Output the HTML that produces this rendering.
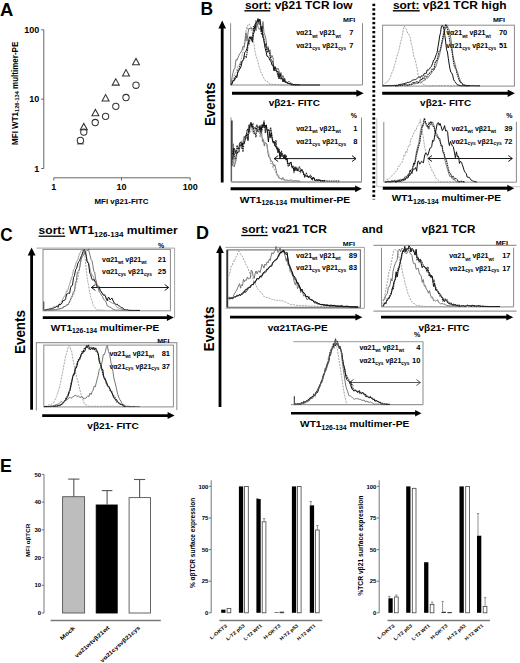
<!DOCTYPE html>
<html><head><meta charset="utf-8"><style>html,body{margin:0;padding:0;background:#fff;width:520px;height:663px;overflow:hidden}svg{display:block}</style></head>
<body><svg width="520" height="663" viewBox="0 0 520 663">
<rect width="520" height="663" fill="#fff"/>
<text x="0.0" y="15.6" font-family="&quot;Liberation Sans&quot;, sans-serif" font-weight="bold" font-size="18.6" textLength="13.3" lengthAdjust="spacingAndGlyphs" fill="#000" >A</text>
<line x1="43.8" y1="29.8" x2="43.8" y2="168.5" stroke="#555" stroke-width="0.9" />
<line x1="41.2" y1="29.8" x2="43.8" y2="29.8" stroke="#555" stroke-width="0.9" />
<text x="39.3" y="32.9" font-family="&quot;Liberation Sans&quot;, sans-serif" font-weight="bold" font-size="9.6" text-anchor="end" textLength="15" lengthAdjust="spacingAndGlyphs" fill="#000" >100</text>
<line x1="41.2" y1="99.2" x2="43.8" y2="99.2" stroke="#555" stroke-width="0.9" />
<text x="39.3" y="102.3" font-family="&quot;Liberation Sans&quot;, sans-serif" font-weight="bold" font-size="9.6" text-anchor="end" textLength="10" lengthAdjust="spacingAndGlyphs" fill="#000" >10</text>
<line x1="41.2" y1="168.5" x2="43.8" y2="168.5" stroke="#555" stroke-width="0.9" />
<text x="39.3" y="171.6" font-family="&quot;Liberation Sans&quot;, sans-serif" font-weight="bold" font-size="9.6" text-anchor="end" textLength="5" lengthAdjust="spacingAndGlyphs" fill="#000" >1</text>
<line x1="53.8" y1="177.8" x2="190.2" y2="177.8" stroke="#555" stroke-width="0.9" />
<line x1="53.8" y1="177.8" x2="53.8" y2="180.6" stroke="#555" stroke-width="0.9" />
<text x="53.8" y="190.3" font-family="&quot;Liberation Sans&quot;, sans-serif" font-weight="bold" font-size="9.6" text-anchor="middle" textLength="5" lengthAdjust="spacingAndGlyphs" fill="#000" >1</text>
<line x1="121.5" y1="177.8" x2="121.5" y2="180.6" stroke="#555" stroke-width="0.9" />
<text x="121.5" y="190.3" font-family="&quot;Liberation Sans&quot;, sans-serif" font-weight="bold" font-size="9.6" text-anchor="middle" textLength="10" lengthAdjust="spacingAndGlyphs" fill="#000" >10</text>
<line x1="190.2" y1="177.8" x2="190.2" y2="180.6" stroke="#555" stroke-width="0.9" />
<text x="190.2" y="190.3" font-family="&quot;Liberation Sans&quot;, sans-serif" font-weight="bold" font-size="9.6" text-anchor="middle" textLength="15" lengthAdjust="spacingAndGlyphs" fill="#000" >100</text>
<text x="94.5" y="203.6" font-family="&quot;Liberation Sans&quot;, sans-serif" font-weight="bold" font-size="7.2" textLength="54" lengthAdjust="spacingAndGlyphs" fill="#000" >MFI vβ21-FITC</text>
<text transform="translate(18.0,144.9) rotate(-90)" font-family="&quot;Liberation Sans&quot;, sans-serif" font-weight="bold" font-size="8.3" textLength="103.2" lengthAdjust="spacingAndGlyphs">MFI WT1<tspan font-size="5.9" dy="0.8">126-134</tspan><tspan dy="-0.8"> multimer-PE</tspan></text>
<line x1="77.0" y1="143.9" x2="83.8" y2="143.9" stroke="#333" stroke-width="1.0" />
<circle cx="136" cy="85.2" r="3.15" fill="none" stroke="#333" stroke-width="1.05"/>
<circle cx="126" cy="97.5" r="3.15" fill="none" stroke="#333" stroke-width="1.05"/>
<circle cx="115.8" cy="106.3" r="3.15" fill="none" stroke="#333" stroke-width="1.05"/>
<circle cx="105.6" cy="116.3" r="3.15" fill="none" stroke="#333" stroke-width="1.05"/>
<circle cx="95.2" cy="122.5" r="3.15" fill="none" stroke="#333" stroke-width="1.05"/>
<circle cx="83.8" cy="132.1" r="3.15" fill="none" stroke="#333" stroke-width="1.05"/>
<circle cx="80.4" cy="140.4" r="3.15" fill="none" stroke="#333" stroke-width="1.05"/>
<polygon points="132.5,64.7 136,58.4 139.5,64.7" fill="none" stroke="#333" stroke-width="1.05"/>
<polygon points="122.5,75.89999999999999 126,69.6 129.5,75.89999999999999" fill="none" stroke="#333" stroke-width="1.05"/>
<polygon points="112.3,85.1 115.8,78.8 119.3,85.1" fill="none" stroke="#333" stroke-width="1.05"/>
<polygon points="102.1,100.89999999999999 105.6,94.6 109.1,100.89999999999999" fill="none" stroke="#333" stroke-width="1.05"/>
<polygon points="91.9,115.7 95.4,109.4 98.9,115.7" fill="none" stroke="#333" stroke-width="1.05"/>
<polygon points="80.3,129.70000000000002 83.8,123.4 87.3,129.70000000000002" fill="none" stroke="#333" stroke-width="1.05"/>
<text x="200.5" y="15.3" font-family="&quot;Liberation Sans&quot;, sans-serif" font-weight="bold" font-size="18.5" textLength="12.6" lengthAdjust="spacingAndGlyphs" fill="#000" >B</text>
<text x="245" y="8.9" font-family="&quot;Liberation Sans&quot;, sans-serif" font-weight="bold" font-size="10.5" textLength="107.6" lengthAdjust="spacingAndGlyphs" fill="#000" >sort: vβ21 TCR low</text>
<line x1="244.4" y1="10.8" x2="270.2" y2="10.8" stroke="#000" stroke-width="1.4" />
<text x="392.9" y="8.9" font-family="&quot;Liberation Sans&quot;, sans-serif" font-weight="bold" font-size="10.5" textLength="113.6" lengthAdjust="spacingAndGlyphs" fill="#000" >sort: vβ21 TCR high</text>
<line x1="392.8" y1="10.8" x2="419.7" y2="10.8" stroke="#000" stroke-width="1.4" />
<line x1="222.2" y1="27.5" x2="222.2" y2="182.5" stroke="#000" stroke-width="2.8"/>
<polygon points="218.39999999999998,28.5 222.2,20.5 226.0,28.5" fill="#000"/>
<text transform="translate(215.3,126.1) rotate(-90)" font-family="&quot;Liberation Sans&quot;, sans-serif" font-weight="bold" font-size="14.3" textLength="43.8" lengthAdjust="spacingAndGlyphs">Events</text>
<rect x="372.4" y="3.70" width="2.8" height="2.4" fill="#000"/>
<rect x="372.4" y="8.25" width="2.8" height="2.4" fill="#000"/>
<rect x="372.4" y="12.79" width="2.8" height="2.4" fill="#000"/>
<rect x="372.4" y="17.34" width="2.8" height="2.4" fill="#000"/>
<rect x="372.4" y="21.88" width="2.8" height="2.4" fill="#000"/>
<rect x="372.4" y="26.43" width="2.8" height="2.4" fill="#000"/>
<rect x="372.4" y="30.97" width="2.8" height="2.4" fill="#000"/>
<rect x="372.4" y="35.51" width="2.8" height="2.4" fill="#000"/>
<rect x="372.4" y="40.06" width="2.8" height="2.4" fill="#000"/>
<rect x="372.4" y="44.60" width="2.8" height="2.4" fill="#000"/>
<rect x="372.4" y="49.15" width="2.8" height="2.4" fill="#000"/>
<rect x="372.4" y="53.69" width="2.8" height="2.4" fill="#000"/>
<rect x="372.4" y="58.24" width="2.8" height="2.4" fill="#000"/>
<rect x="372.4" y="62.78" width="2.8" height="2.4" fill="#000"/>
<rect x="372.4" y="67.33" width="2.8" height="2.4" fill="#000"/>
<rect x="372.4" y="71.88" width="2.8" height="2.4" fill="#000"/>
<rect x="372.4" y="76.42" width="2.8" height="2.4" fill="#000"/>
<rect x="372.4" y="80.97" width="2.8" height="2.4" fill="#000"/>
<rect x="372.4" y="85.51" width="2.8" height="2.4" fill="#000"/>
<rect x="372.4" y="90.06" width="2.8" height="2.4" fill="#000"/>
<rect x="372.4" y="94.60" width="2.8" height="2.4" fill="#000"/>
<rect x="372.4" y="99.14" width="2.8" height="2.4" fill="#000"/>
<rect x="372.4" y="103.69" width="2.8" height="2.4" fill="#000"/>
<rect x="372.4" y="108.23" width="2.8" height="2.4" fill="#000"/>
<rect x="372.4" y="112.78" width="2.8" height="2.4" fill="#000"/>
<rect x="372.4" y="117.33" width="2.8" height="2.4" fill="#000"/>
<rect x="372.4" y="121.87" width="2.8" height="2.4" fill="#000"/>
<rect x="372.4" y="126.42" width="2.8" height="2.4" fill="#000"/>
<rect x="372.4" y="130.96" width="2.8" height="2.4" fill="#000"/>
<rect x="372.4" y="135.51" width="2.8" height="2.4" fill="#000"/>
<rect x="372.4" y="140.05" width="2.8" height="2.4" fill="#000"/>
<rect x="372.4" y="144.60" width="2.8" height="2.4" fill="#000"/>
<rect x="372.4" y="149.14" width="2.8" height="2.4" fill="#000"/>
<rect x="372.4" y="153.69" width="2.8" height="2.4" fill="#000"/>
<rect x="372.4" y="158.23" width="2.8" height="2.4" fill="#000"/>
<rect x="372.4" y="162.78" width="2.8" height="2.4" fill="#000"/>
<rect x="372.4" y="167.32" width="2.8" height="2.4" fill="#000"/>
<rect x="372.4" y="171.87" width="2.8" height="2.4" fill="#000"/>
<rect x="372.4" y="176.41" width="2.8" height="2.4" fill="#000"/>
<rect x="372.4" y="180.96" width="2.8" height="2.4" fill="#000"/>
<rect x="372.4" y="185.50" width="2.8" height="2.4" fill="#000"/>
<rect x="372.4" y="190.05" width="2.8" height="2.4" fill="#000"/>
<rect x="372.4" y="194.59" width="2.8" height="2.4" fill="#000"/>
<rect x="372.4" y="198.8" width="2.8" height="0.9" fill="#555"/>
<polyline points="230.6,23.2 230.6,85 362.5,85 362.5,23.2" fill="none" stroke="#8a8a8a" stroke-width="1"/>
<line x1="232" y1="93.2" x2="357.40000000000003" y2="93.2" stroke="#000" stroke-width="3.1"/>
<polygon points="356.40000000000003,89.7 363.8,93.2 356.40000000000003,96.7" fill="#000"/>
<text x="268.7" y="105.5" font-family="&quot;Liberation Sans&quot;, sans-serif" font-weight="bold" font-size="9.6" textLength="51.2" lengthAdjust="spacingAndGlyphs" fill="#000" >vβ21- FITC</text>
<text x="296.2" y="35.4" font-family="&quot;Liberation Sans&quot;, sans-serif" font-weight="bold" font-size="7.5" textLength="44.6" lengthAdjust="spacingAndGlyphs" fill="#000" >vα21<tspan font-size="5.2" dy="2.1">wt</tspan><tspan dy="-2.1"> vβ21</tspan><tspan font-size="5.2" dy="2.1">wt</tspan></text>
<text x="296.2" y="48.2" font-family="&quot;Liberation Sans&quot;, sans-serif" font-weight="bold" font-size="7.5" textLength="50.0" lengthAdjust="spacingAndGlyphs" fill="#000" >vα21<tspan font-size="5.2" dy="1.8">cys</tspan><tspan dy="-1.8"> vβ21</tspan><tspan font-size="5.2" dy="1.8">cys</tspan></text>
<text x="353.3" y="35.4" font-family="&quot;Liberation Sans&quot;, sans-serif" font-weight="bold" font-size="7.5" text-anchor="end" fill="#000" >7</text>
<text x="353.3" y="48.2" font-family="&quot;Liberation Sans&quot;, sans-serif" font-weight="bold" font-size="7.5" text-anchor="end" fill="#000" >7</text>
<text x="355.2" y="22" font-family="&quot;Liberation Sans&quot;, sans-serif" font-weight="bold" font-size="6" text-anchor="end" textLength="12.2" lengthAdjust="spacingAndGlyphs" fill="#000" >MFI</text>
<polyline points="231.00,85.00 232.00,83.09 233.00,79.72 234.00,76.31 235.00,73.63 236.00,72.54 237.00,68.99 238.00,66.10 239.00,65.53 240.00,62.70 241.00,60.62 242.00,55.54 243.00,51.34 244.00,45.56 245.00,37.59 245.75,34.36 246.50,27.51 247.25,29.32 248.00,24.32 249.25,24.02 250.50,26.47 251.25,27.57 252.00,31.45 253.00,36.42 254.00,44.35 255.00,51.14 256.00,56.11 257.00,59.21 258.00,61.38 259.00,66.62 260.00,69.10 261.00,72.83 262.00,74.23 263.00,77.04 264.00,77.96 265.00,80.14 266.00,81.24 267.00,80.96 268.00,82.19 269.00,82.99 270.00,84.63 271.00,84.07 272.00,84.39 273.00,84.47 274.00,84.33 275.00,84.15 276.00,84.80 277.00,84.63 278.00,84.90 279.00,84.77 280.00,85.00 281.00,85.00 282.00,85.00 283.00,85.00 284.00,85.00 285.00,85.00 286.00,85.00 287.00,85.00 288.00,85.00 289.00,85.00 290.00,85.00 291.00,85.00 292.00,85.00 293.00,85.00 294.00,85.00 295.00,85.00 296.00,85.00 297.00,85.00 298.00,85.00 299.00,85.00 300.00,85.00" fill="none" stroke="#9a9a9a" stroke-width="0.9" stroke-dasharray="2 1.1" stroke-linejoin="miter" opacity="1"/>
<polyline points="231.00,85.00 232.00,77.62 233.00,72.74 234.00,69.30 235.00,67.89 236.00,59.58 237.00,60.28 238.00,57.71 239.00,55.21 240.00,53.47 241.00,52.00 242.00,50.25 243.00,46.31 244.00,47.43 245.00,42.58 246.00,32.69 247.00,41.10 248.00,32.98 249.00,28.07 250.00,29.20 251.00,27.60 252.00,29.14 253.00,28.78 254.00,30.00 255.00,24.00 256.00,30.75 257.00,22.71 258.00,26.96 259.00,29.05 260.00,29.07 261.00,27.36 262.00,30.76 263.00,21.55 264.00,32.89 265.00,35.25 266.00,39.53 267.00,49.64 268.00,46.62 269.00,52.45 270.00,49.70 271.00,58.04 272.00,55.42 273.00,57.74 274.00,69.33 275.00,67.31 276.00,67.70 277.00,69.68 278.00,68.14 279.00,70.63 280.00,74.90 281.00,72.46 282.00,77.21 283.00,75.40 284.00,78.99 285.00,78.54 286.00,82.71 287.00,82.81 288.00,81.82 289.00,81.15 290.00,82.46 291.00,83.38 292.00,83.25 293.00,84.32 294.00,84.90 295.00,85.00" fill="none" stroke="#666" stroke-width="0.9" stroke-linejoin="miter" opacity="1"/>
<polyline points="231.00,85.00 232.00,84.11 233.00,80.59 234.00,80.93 235.00,77.64 235.88,75.85 236.75,77.70 237.62,73.04 238.50,70.92 239.75,69.09 241.00,66.69 242.25,60.92 243.50,59.53 244.75,52.47 246.00,51.05 247.00,48.36 248.00,43.54 248.75,40.08 249.50,36.77 250.25,38.38 251.00,36.55 251.75,38.67 252.50,42.18 253.25,34.03 254.00,32.79 254.75,29.62 255.50,26.95 256.25,22.05 257.00,22.46 258.00,18.51 259.00,22.69 259.75,19.04 260.50,21.81 261.25,31.61 262.00,26.28 262.75,37.08 263.50,38.85 264.50,44.19 265.25,48.69 266.00,51.37 267.00,56.22 268.00,56.40 269.00,57.96 270.00,60.49 271.00,61.30 272.00,65.23 273.00,65.27 274.00,70.91 275.00,66.61 276.00,69.95 277.00,71.64 278.00,71.17 279.00,78.97 280.00,73.46 281.00,77.61 282.00,78.33 283.00,81.93 284.00,78.62 285.00,82.54 286.00,81.62 287.00,82.89 288.00,82.87 289.00,84.03 290.00,83.36 291.00,84.25 292.00,84.72 293.00,85.00 294.00,84.01 295.00,85.00 296.00,85.00 297.00,84.75 298.00,84.95 299.00,84.90 300.00,85.00 301.00,85.00 302.00,85.00 303.00,85.00 304.00,85.00 305.00,85.00 306.00,85.00 307.00,85.00 308.00,85.00 309.00,85.00 310.00,85.00 311.00,85.00 312.00,85.00 313.00,85.00 314.00,85.00 315.00,85.00 316.00,85.00 317.00,85.00 318.00,85.00 319.00,85.00 320.00,85.00" fill="none" stroke="#111" stroke-width="1.0" stroke-linejoin="miter" opacity="1"/>
<polyline points="231.00,85.00 232.00,83.52 233.00,80.95 234.00,80.03 235.00,79.09 236.00,76.64 237.00,76.40 238.00,69.63 239.00,69.14 240.00,65.10 241.00,62.48 242.00,61.54 243.00,60.24 244.00,58.42 245.00,56.32 246.25,57.31 247.50,50.24 248.25,41.35 249.00,43.53 250.00,39.38 251.00,37.66 252.00,40.40 253.00,34.42 253.75,25.93 254.50,27.81 255.25,24.74 256.00,20.95 257.00,21.36 258.00,21.87 259.00,23.94 260.00,23.39 260.75,27.44 261.50,34.77 262.25,30.92 263.00,33.90 264.00,38.85 265.00,45.85 266.00,44.16 267.00,52.73 268.25,49.10 269.50,53.32 270.75,59.36 272.00,60.89 273.00,63.56 274.00,68.00 275.00,70.51 276.00,70.89 277.00,71.83 278.00,76.32 279.00,75.90 280.00,76.14 281.00,79.45 282.00,77.85 283.00,80.07 284.00,81.46 285.00,81.61 286.00,82.03 287.00,83.19 288.00,82.99 289.00,83.43 290.00,83.72 291.00,84.86 292.00,84.13 293.00,84.89 294.00,84.66 295.00,84.51 296.00,84.88 297.00,84.83 298.00,84.87 299.00,84.72 300.00,85.00" fill="none" stroke="#222" stroke-width="1.1" stroke-dasharray="1.6 0.7" stroke-linejoin="miter" opacity="1"/>
<rect x="382.6" y="25.2" width="131.79999999999995" height="60.89999999999999" fill="none" stroke="#8a8a8a" stroke-width="1"/>
<line x1="382.2" y1="93.3" x2="508.7" y2="93.3" stroke="#000" stroke-width="3.0"/>
<polygon points="507.7,89.7 514.9,93.3 507.7,96.89999999999999" fill="#000"/>
<text x="420.1" y="105.6" font-family="&quot;Liberation Sans&quot;, sans-serif" font-weight="bold" font-size="9.6" textLength="51.1" lengthAdjust="spacingAndGlyphs" fill="#000" >vβ21- FITC</text>
<text x="446.2" y="35.4" font-family="&quot;Liberation Sans&quot;, sans-serif" font-weight="bold" font-size="7.5" textLength="44.6" lengthAdjust="spacingAndGlyphs" fill="#000" >vα21<tspan font-size="5.2" dy="2.1">wt</tspan><tspan dy="-2.1"> vβ21</tspan><tspan font-size="5.2" dy="2.1">wt</tspan></text>
<text x="446.2" y="48.2" font-family="&quot;Liberation Sans&quot;, sans-serif" font-weight="bold" font-size="7.5" textLength="50.0" lengthAdjust="spacingAndGlyphs" fill="#000" >vα21<tspan font-size="5.2" dy="1.8">cys</tspan><tspan dy="-1.8"> vβ21</tspan><tspan font-size="5.2" dy="1.8">cys</tspan></text>
<text x="507.3" y="35.4" font-family="&quot;Liberation Sans&quot;, sans-serif" font-weight="bold" font-size="7.5" text-anchor="end" fill="#000" >70</text>
<text x="507.3" y="48.2" font-family="&quot;Liberation Sans&quot;, sans-serif" font-weight="bold" font-size="7.5" text-anchor="end" fill="#000" >51</text>
<text x="505.1" y="22" font-family="&quot;Liberation Sans&quot;, sans-serif" font-weight="bold" font-size="6" text-anchor="end" textLength="12.2" lengthAdjust="spacingAndGlyphs" fill="#000" >MFI</text>
<polyline points="382.60,85.62 383.62,84.70 384.63,84.11 385.65,82.69 386.67,82.27 387.68,80.87 388.70,80.91 389.72,78.23 390.74,76.24 391.76,73.06 392.78,71.03 393.80,68.26 394.84,64.19 395.88,60.89 396.92,56.25 397.96,52.99 399.00,49.82 399.88,45.53 400.75,41.35 401.62,39.01 402.50,33.83 403.35,29.55 404.20,26.10 405.07,27.21 405.95,28.82 406.82,30.36 407.70,33.32 408.57,33.85 409.43,35.67 410.30,37.70 411.17,43.11 412.03,46.37 412.90,50.73 414.03,57.22 415.17,59.49 416.30,64.80 417.17,69.36 418.03,74.05 418.90,76.76 419.77,78.04 420.65,80.74 421.52,82.15 422.40,83.93 423.47,84.49 424.55,84.88 425.62,85.30 426.70,85.67 427.72,85.77 428.75,85.77 429.77,85.66 430.79,85.61 431.82,85.68 432.84,85.64 433.86,85.51 434.88,85.54 435.91,85.64 436.93,85.54 437.95,85.50 438.98,85.53 440.00,85.50 441.00,85.51 442.00,85.37 443.00,85.69 444.00,85.58 445.00,85.51 446.00,85.67 447.00,85.63 448.00,85.62 449.00,85.71 450.00,85.81 451.00,85.70 452.00,85.79 453.00,85.84 454.00,85.64 455.00,85.69 456.00,85.79 457.00,85.65 458.00,85.75 459.00,85.86 460.00,85.80" fill="none" stroke="#9a9a9a" stroke-width="0.9" stroke-dasharray="2 1.1" stroke-linejoin="miter" opacity="1"/>
<polyline points="382.60,85.84 383.61,85.60 384.63,85.66 385.64,85.72 386.66,85.85 387.67,85.65 388.69,85.42 389.70,85.63 390.72,85.40 391.73,85.70 392.75,85.47 393.76,85.73 394.78,85.42 395.79,85.26 396.81,85.15 397.82,85.30 398.84,85.40 399.85,85.50 400.87,85.31 401.88,85.11 402.90,85.30 403.91,84.92 404.93,85.24 405.94,84.98 406.96,85.37 407.97,85.25 408.99,85.10 410.00,84.80 411.02,84.85 412.05,84.54 413.07,84.02 414.09,83.71 415.12,84.01 416.14,83.21 417.16,83.21 418.18,83.28 419.21,81.95 420.23,82.92 421.25,82.36 422.28,81.41 423.30,80.99 424.29,79.97 425.27,80.16 426.26,77.45 427.24,78.50 428.23,77.21 429.21,75.83 430.20,75.07 431.24,73.40 432.28,71.75 433.32,70.89 434.36,67.74 435.40,67.66 436.47,64.61 437.55,60.40 438.62,58.24 439.70,54.06 440.83,48.89 441.97,43.57 443.10,39.24 443.97,33.78 444.83,30.22 445.70,26.93 446.57,26.72 447.43,25.82 448.30,28.78 449.15,29.73 450.00,33.21 450.90,38.85 451.80,46.02 452.70,54.07 453.83,59.90 454.97,63.59 456.10,68.69 456.98,70.98 457.85,72.89 458.73,76.67 459.60,78.75 460.73,81.78 461.87,82.77 463.00,84.69 464.00,84.67 465.00,84.83 466.00,85.39 467.00,85.47 468.00,85.39 469.00,85.50 470.00,85.80" fill="none" stroke="#666" stroke-width="0.9" stroke-linejoin="miter" opacity="1"/>
<polyline points="382.60,85.78 383.58,85.82 384.56,85.72 385.54,85.69 386.52,85.59 387.50,85.64 388.48,85.77 389.46,85.67 390.44,85.72 391.42,85.59 392.40,85.59 393.38,85.53 394.36,85.24 395.34,85.58 396.32,85.50 397.30,85.48 398.27,84.83 399.23,84.52 400.20,84.43 401.17,84.26 402.13,84.21 403.10,83.85 404.07,83.77 405.03,83.15 406.00,83.21 406.96,82.86 407.91,82.09 408.87,82.66 409.82,81.82 410.78,81.74 411.73,80.55 412.69,80.11 413.64,79.91 414.60,79.65 415.57,79.55 416.53,78.88 417.50,78.02 418.47,77.24 419.43,77.00 420.40,77.57 421.37,75.85 422.33,76.03 423.30,75.68 424.29,73.39 425.27,73.43 426.26,73.36 427.24,69.86 428.23,70.15 429.21,69.31 430.20,67.71 431.33,66.54 432.47,63.74 433.60,60.05 434.48,59.73 435.35,56.97 436.23,54.65 437.10,52.54 437.97,46.86 438.83,42.02 439.70,36.00 440.55,32.72 441.40,26.29 442.60,25.55 444.00,29.14 444.85,35.48 445.70,41.97 446.57,49.56 447.43,52.00 448.30,58.34 449.17,64.06 450.03,69.10 450.90,72.33 451.77,72.97 452.65,75.11 453.52,79.21 454.40,81.08 455.27,81.84 456.15,83.48 457.02,84.33 457.90,84.93 459.03,85.21 460.17,85.50 461.30,85.87 462.28,85.77 463.27,85.77 464.25,85.77 465.24,85.56 466.22,85.86 467.21,85.83 468.19,85.79 469.17,85.54 470.16,85.68 471.14,85.84 472.13,85.58 473.11,85.75 474.09,85.87 475.08,85.65 476.06,85.93 477.05,85.84 478.03,85.78 479.02,85.82 480.00,85.80" fill="none" stroke="#111" stroke-width="1.0" stroke-linejoin="miter" opacity="1"/>
<polyline points="395.00,85.84 396.00,86.00 397.00,85.79 398.00,85.72 399.00,85.57 400.00,85.44 401.00,85.42 402.00,85.19 403.00,84.95 404.00,84.82 405.00,84.66 406.00,84.93 407.00,84.94 408.00,85.16 409.00,84.76 410.00,84.61 411.00,84.36 412.00,83.74 413.00,82.59 414.00,83.40 415.00,82.34 416.00,82.26 417.00,81.62 418.00,82.91 419.00,81.60 420.00,80.80 421.00,79.18 422.00,79.77 423.00,77.90 424.00,78.65 425.00,76.02 426.00,76.39 427.00,76.52 428.00,74.39 429.00,73.86 430.00,72.59 431.00,72.02 432.00,69.29 433.00,69.18 434.00,69.37 435.00,62.92 436.00,61.10 437.00,60.22 438.00,56.33 439.00,51.47 440.00,50.93 441.00,46.35 442.25,40.03 443.50,33.50 444.25,30.56 445.00,26.13 446.00,24.19 447.00,27.79 448.00,30.32 449.00,36.22 450.25,43.65 451.50,48.59 452.75,56.24 454.00,65.24 455.00,67.66 456.00,68.86 457.00,73.94 458.00,76.60 459.00,79.47 460.00,81.97 461.00,82.53 462.00,83.46 463.00,84.81 464.00,85.27 465.00,85.76 466.00,85.67 467.00,85.59 468.00,85.64 469.00,85.79 470.00,85.80" fill="none" stroke="#222" stroke-width="1.1" stroke-dasharray="1.6 0.7" stroke-linejoin="miter" opacity="1"/>
<polyline points="231,117.5 231,182 361.5,182 361.5,117.5" fill="none" stroke="#8a8a8a" stroke-width="1"/>
<line x1="231" y1="182" x2="361.5" y2="182" stroke="#aaa" stroke-width="2" />
<line x1="230.6" y1="188.8" x2="356.09999999999997" y2="188.8" stroke="#000" stroke-width="3.0"/>
<polygon points="355.09999999999997,185.4 361.9,188.8 355.09999999999997,192.20000000000002" fill="#000"/>
<text x="239.8" y="202.6" font-family="&quot;Liberation Sans&quot;, sans-serif" font-weight="bold" font-size="9.4" textLength="110.4" lengthAdjust="spacingAndGlyphs" fill="#000" >WT1<tspan font-size="6.4" dy="2.6">126-134</tspan><tspan dy="-2.6"> multimer-PE</tspan></text>
<text x="296.2" y="131.2" font-family="&quot;Liberation Sans&quot;, sans-serif" font-weight="bold" font-size="7.5" textLength="44.6" lengthAdjust="spacingAndGlyphs" fill="#000" >vα21<tspan font-size="5.2" dy="2.1">wt</tspan><tspan dy="-2.1"> vβ21</tspan><tspan font-size="5.2" dy="2.1">wt</tspan></text>
<text x="296.2" y="143.9" font-family="&quot;Liberation Sans&quot;, sans-serif" font-weight="bold" font-size="7.5" textLength="50.0" lengthAdjust="spacingAndGlyphs" fill="#000" >vα21<tspan font-size="5.2" dy="1.8">cys</tspan><tspan dy="-1.8"> vβ21</tspan><tspan font-size="5.2" dy="1.8">cys</tspan></text>
<text x="357.5" y="131.2" font-family="&quot;Liberation Sans&quot;, sans-serif" font-weight="bold" font-size="7.5" text-anchor="end" fill="#000" >1</text>
<text x="357.5" y="143.9" font-family="&quot;Liberation Sans&quot;, sans-serif" font-weight="bold" font-size="7.5" text-anchor="end" fill="#000" >8</text>
<text x="357.1" y="118.1" font-family="&quot;Liberation Sans&quot;, sans-serif" font-weight="bold" font-size="7" text-anchor="end" fill="#000" >%</text>
<line x1="274.2" y1="158.6" x2="356" y2="158.6" stroke="#000" stroke-width="0.9"/>
<polyline points="278.2,155.6 274.2,158.6 278.2,161.6" fill="none" stroke="#000" stroke-width="0.9"/>
<polyline points="352,155.6 356,158.6 352,161.6" fill="none" stroke="#000" stroke-width="0.9"/>
<line x1="231.9" y1="166" x2="231.9" y2="120.5" stroke="#222" stroke-width="1.4" />
<line x1="231.6" y1="181" x2="231.6" y2="166" stroke="#555" stroke-width="1.0" />
<polyline points="232.30,146.61 233.40,143.80 234.00,166.95 235.00,164.18 236.00,159.25 236.93,152.94 237.87,151.72 238.80,147.42 239.70,142.70 240.60,144.83 241.50,149.00 242.40,144.63 243.30,140.73 244.20,136.22 245.07,138.00 245.93,134.59 246.80,135.13 247.70,135.74 248.60,124.84 249.50,131.68 250.40,125.50 251.30,126.12 252.20,123.76 253.10,132.45 254.00,131.13 254.90,130.78 255.93,126.72 256.95,124.60 257.98,128.77 259.00,131.23 259.87,131.21 260.73,134.89 261.60,132.12 262.50,141.66 263.40,139.41 264.30,146.03 265.20,142.48 266.10,143.47 267.00,143.97 267.90,153.02 268.80,157.01 269.70,156.95 270.73,160.47 271.75,160.95 272.77,163.28 273.80,166.42 274.80,164.60 275.80,168.98 276.80,173.35 277.80,175.51 278.80,177.98 279.80,178.16 280.80,178.80 281.80,179.34 282.77,177.49 283.74,179.71 284.71,179.18 285.69,180.38 286.66,180.05 287.63,180.23 288.60,180.35 289.64,180.51 290.67,179.87 291.71,180.09 292.75,181.00 293.78,180.92 294.82,180.68 295.85,180.76 296.89,180.80 297.93,181.00 298.96,181.00 300.00,181.00" fill="none" stroke="#666" stroke-width="0.9" stroke-linejoin="miter" opacity="1"/>
<polyline points="232.30,154.34 233.40,148.16 234.20,152.60 235.00,158.83 236.00,158.89 237.00,145.13 238.00,149.32 239.00,147.39 240.00,144.47 241.00,145.54 242.00,144.00 243.00,151.89 244.00,140.87 245.00,137.31 246.00,138.47 247.00,129.31 248.00,129.60 249.00,131.61 250.00,124.79 251.00,123.86 252.00,126.49 253.00,124.38 254.00,133.39 255.00,132.87 256.00,137.30 257.00,126.10 258.00,126.82 259.00,127.41 260.00,129.79 261.00,127.15 262.00,129.72 263.00,124.77 264.13,120.57 265.27,132.91 266.40,124.81 267.50,133.31 268.60,129.18 269.70,132.97 270.60,127.48 271.50,131.96 272.40,139.18 273.30,142.64 274.20,142.00 275.10,146.17 275.97,140.08 276.83,149.49 277.70,148.50 278.65,148.01 279.60,154.50 280.55,152.25 281.50,151.47 282.47,154.05 283.43,154.70 284.40,155.76 285.37,157.81 286.33,156.47 287.30,162.23 288.27,166.19 289.25,165.70 290.23,162.76 291.20,163.58 292.15,167.51 293.10,166.41 294.05,171.76 295.00,169.12 295.97,170.23 296.93,167.86 297.90,170.34 298.87,167.49 299.83,167.03 300.80,171.79 301.75,169.05 302.70,170.81 303.65,174.76 304.60,176.75 305.55,173.82 306.50,173.30 307.47,176.35 308.43,177.27 309.40,177.03 310.37,175.31 311.33,176.61 312.30,179.41 313.27,176.99 314.23,178.88 315.20,180.51 316.17,180.57 317.13,179.48 318.10,180.22 319.06,180.33 320.02,179.90 320.98,180.62 321.94,180.23 322.90,180.97 323.86,180.34 324.82,180.61 325.78,180.71 326.74,180.95 327.70,181.00 328.72,181.00 329.75,181.00 330.77,181.00 331.80,181.00 332.82,181.00 333.85,181.00 334.88,181.00 335.90,181.00 336.93,181.00 337.95,181.00 338.98,181.00 340.00,181.00" fill="none" stroke="#222" stroke-width="1.1" stroke-dasharray="1.6 0.7" stroke-linejoin="miter" opacity="1"/>
<polyline points="232.30,161.87 233.15,156.21 234.00,148.18 235.00,149.86 236.00,153.92 237.00,153.79 238.00,151.53 239.00,152.18 240.00,143.44 241.00,141.86 242.00,145.93 243.00,142.85 244.00,143.91 245.00,140.81 246.00,136.01 247.00,134.12 248.00,140.63 249.00,128.88 250.00,125.39 251.00,122.36 252.00,127.31 253.00,128.47 254.00,127.90 255.00,128.07 256.00,128.41 257.00,129.02 258.00,131.78 259.00,130.40 260.00,125.47 261.00,132.45 262.00,124.66 263.00,127.65 264.00,123.25 265.00,127.74 266.00,125.01 267.20,130.13 268.40,141.96 269.27,133.11 270.13,137.83 271.00,132.77 271.93,137.58 272.87,142.12 273.80,141.20 274.87,145.52 275.93,147.50 277.00,146.78 278.00,152.80 279.00,149.40 280.00,158.99 281.00,152.38 282.00,156.80 283.00,155.21 284.00,158.85 285.00,154.49 286.00,160.13 287.00,158.29 288.00,164.01 289.00,163.74 290.00,163.38 291.00,161.94 292.00,166.97 293.00,167.16 294.00,170.76 295.00,166.72 296.00,169.66 297.00,170.32 298.00,170.60 299.00,170.93 300.00,171.37 301.00,170.32 302.00,170.05 303.00,171.76 304.00,174.07 305.00,176.22 306.00,175.80 307.00,176.44 308.00,176.52 309.00,176.92 310.00,176.75 311.00,177.99 312.00,179.62 313.00,177.64 314.00,177.80 315.00,180.77 316.00,179.69 317.00,180.38 318.00,180.44 319.00,179.27 320.00,181.00 321.00,181.00 322.00,180.58 323.00,180.94 324.00,180.87 325.00,181.00" fill="none" stroke="#111" stroke-width="1.0" stroke-linejoin="miter" opacity="1"/>
<polyline points="232.30,159.48 233.20,163.40 234.10,163.54 235.00,164.23 236.00,161.77 237.00,155.13 238.00,149.45 239.00,151.86 240.00,145.51 241.00,142.22 242.00,140.25 243.00,139.95 244.00,140.32 245.00,138.70 246.00,137.28 247.00,137.58 248.00,136.20 249.00,132.96 250.00,133.22 251.00,131.11 252.00,127.91 253.00,129.94 254.00,128.95 255.00,128.94 256.00,133.92 257.00,131.92 258.00,129.86 259.00,131.15 260.00,137.56 261.00,133.88 262.00,137.40 263.00,139.23 264.00,141.08 265.00,143.30 266.00,144.14 267.00,147.17 268.00,150.79 269.00,153.72 270.00,159.35 271.00,163.89 272.00,162.61 273.00,167.91 274.00,168.76 275.00,170.96 276.00,173.30 277.00,175.41 278.00,176.69 279.00,175.67 280.00,179.15 281.00,178.62 282.00,179.03 283.00,180.23 284.00,180.34 285.00,180.17 286.00,180.73 287.00,180.75 288.00,180.51 289.00,180.92 290.00,180.86 291.00,180.63 292.00,181.00 293.00,180.95 294.00,180.86 295.00,181.00" fill="none" stroke="#9a9a9a" stroke-width="0.9" stroke-dasharray="2 1.1" stroke-linejoin="miter" opacity="1"/>
<polyline points="376.8,118 376.8,186.7 520,186.7" fill="none" stroke="#bbb" stroke-width="0.8"/>
<polyline points="383.8,121.9 383.8,182.2 516.4,182.2 516.4,121.9" fill="none" stroke="#8a8a8a" stroke-width="1"/>
<line x1="382.8" y1="188.3" x2="508.29999999999995" y2="188.3" stroke="#000" stroke-width="2.9"/>
<polygon points="507.29999999999995,184.8 514.3,188.3 507.29999999999995,191.8" fill="#000"/>
<text x="391.7" y="201.4" font-family="&quot;Liberation Sans&quot;, sans-serif" font-weight="bold" font-size="9.2" textLength="109.3" lengthAdjust="spacingAndGlyphs" fill="#000" >WT1<tspan font-size="6.4" dy="2.6">126-134</tspan><tspan dy="-2.6"> multimer-PE</tspan></text>
<text x="451.6" y="130.6" font-family="&quot;Liberation Sans&quot;, sans-serif" font-weight="bold" font-size="7.5" textLength="44.6" lengthAdjust="spacingAndGlyphs" fill="#000" >vα21<tspan font-size="5.2" dy="2.1">wt</tspan><tspan dy="-2.1"> vβ21</tspan><tspan font-size="5.2" dy="2.1">wt</tspan></text>
<text x="451.6" y="143.5" font-family="&quot;Liberation Sans&quot;, sans-serif" font-weight="bold" font-size="7.5" textLength="50.0" lengthAdjust="spacingAndGlyphs" fill="#000" >vα21<tspan font-size="5.2" dy="1.8">cys</tspan><tspan dy="-1.8"> vβ21</tspan><tspan font-size="5.2" dy="1.8">cys</tspan></text>
<text x="512.5" y="130.6" font-family="&quot;Liberation Sans&quot;, sans-serif" font-weight="bold" font-size="7.5" text-anchor="end" fill="#000" >39</text>
<text x="512.5" y="143.5" font-family="&quot;Liberation Sans&quot;, sans-serif" font-weight="bold" font-size="7.5" text-anchor="end" fill="#000" >72</text>
<text x="512.6" y="117.8" font-family="&quot;Liberation Sans&quot;, sans-serif" font-weight="bold" font-size="7" text-anchor="end" fill="#000" >%</text>
<line x1="428" y1="158.5" x2="512.3" y2="158.5" stroke="#000" stroke-width="0.9"/>
<polyline points="432,155.5 428,158.5 432,161.5" fill="none" stroke="#000" stroke-width="0.9"/>
<polyline points="508.29999999999995,155.5 512.3,158.5 508.29999999999995,161.5" fill="none" stroke="#000" stroke-width="0.9"/>
<polyline points="384.00,182.00 385.00,181.60 386.00,180.38 387.00,179.28 388.00,179.31 389.00,178.80 389.92,177.87 390.83,177.11 391.75,175.92 392.67,174.77 393.58,173.80 394.50,173.30 395.47,171.62 396.43,171.14 397.40,169.38 398.37,166.12 399.33,166.43 400.30,164.17 401.27,163.49 402.23,162.07 403.20,159.12 404.17,154.41 405.13,155.43 406.10,150.84 407.02,152.33 407.94,147.33 408.86,145.60 409.78,145.74 410.70,139.09 411.83,138.57 412.97,134.53 414.10,132.50 415.07,130.23 416.03,130.09 417.00,126.97 418.15,125.15 419.30,122.91 420.50,119.56 421.35,128.48 422.20,131.63 423.10,135.72 424.00,142.73 424.85,148.04 425.70,151.65 426.85,154.20 428.00,159.75 429.13,162.94 430.27,166.76 431.40,168.68 432.32,171.46 433.24,171.83 434.16,173.87 435.08,176.60 436.00,178.41 436.94,178.83 437.88,179.87 438.82,180.50 439.76,181.39 440.70,182.00 441.72,182.00 442.74,182.00 443.76,182.00 444.79,182.00 445.81,182.00 446.83,182.00 447.85,182.00 448.87,182.00 449.89,182.00 450.91,182.00 451.94,182.00 452.96,182.00 453.98,182.00 455.00,182.00" fill="none" stroke="#9a9a9a" stroke-width="0.9" stroke-dasharray="2 1.1" stroke-linejoin="miter" opacity="1"/>
<polyline points="385.00,182.00 385.99,181.98 386.98,181.41 387.97,181.05 388.96,181.34 389.95,181.45 390.94,181.00 391.93,180.34 392.92,180.54 393.91,181.19 394.89,179.80 395.88,180.76 396.87,180.36 397.86,180.20 398.85,180.20 399.84,179.33 400.83,179.41 401.82,180.38 402.81,178.92 403.80,178.74 404.75,176.84 405.70,176.35 406.65,176.27 407.60,175.70 408.55,174.02 409.50,172.91 410.42,171.29 411.34,169.40 412.26,168.73 413.18,165.52 414.10,165.73 415.25,159.39 416.40,152.05 417.60,146.86 418.80,143.06 419.65,137.39 420.50,130.84 421.35,128.15 422.20,126.34 423.10,124.48 424.00,123.03 424.93,121.10 425.87,124.45 426.80,126.75 427.95,126.09 429.10,129.16 429.98,124.31 430.85,124.30 431.73,123.77 432.60,121.89 433.45,124.22 434.30,126.42 435.50,131.75 436.75,133.52 438.00,136.22 438.87,138.77 439.73,138.08 440.60,143.04 441.73,145.36 442.87,151.47 444.00,154.58 444.88,160.15 445.75,162.88 446.62,166.57 447.50,169.51 448.63,172.83 449.77,176.49 450.90,175.92 451.94,178.52 452.98,179.16 454.02,179.68 455.06,180.24 456.10,181.95 457.09,181.68 458.08,181.89 459.07,181.67 460.06,181.65 461.04,181.98 462.03,181.96 463.02,181.88 464.01,181.94 465.00,182.00" fill="none" stroke="#666" stroke-width="0.9" stroke-linejoin="miter" opacity="1"/>
<polyline points="395.00,182.00 396.00,181.92 397.00,181.23 398.00,181.44 399.00,180.51 400.00,181.10 401.00,180.46 402.00,181.00 403.00,180.48 404.00,179.24 405.00,178.19 406.00,178.00 407.00,176.77 408.00,175.16 409.00,175.17 410.00,170.09 411.00,171.44 412.00,172.93 412.88,168.30 413.75,162.71 414.62,164.42 415.50,160.35 416.75,153.83 418.00,148.80 419.00,145.28 420.00,141.70 420.75,134.82 421.50,133.52 422.25,125.79 423.00,125.71 423.75,119.97 424.50,118.19 425.75,122.84 427.00,124.58 428.00,127.40 429.00,122.72 430.00,123.61 431.00,121.31 432.00,124.44 433.00,126.15 434.00,126.76 435.00,132.10 436.25,135.84 437.50,137.24 438.75,138.56 440.00,140.88 441.03,145.54 442.07,145.39 443.10,152.38 444.13,152.89 445.17,158.22 446.20,159.27 447.35,164.36 448.50,169.36 449.45,172.63 450.40,173.54 451.35,175.10 452.30,177.45 453.33,176.55 454.37,178.79 455.40,178.46 456.43,179.11 457.47,180.16 458.50,181.59 459.58,181.88 460.67,181.32 461.75,181.34 462.83,181.42 463.92,181.88 465.00,182.00" fill="none" stroke="#222" stroke-width="1.1" stroke-dasharray="1.6 0.7" stroke-linejoin="miter" opacity="1"/>
<polyline points="385.00,182.00 386.00,181.96 387.00,181.91 388.00,181.78 389.00,181.87 390.00,181.79 391.00,181.99 392.00,181.46 393.00,182.00 394.00,180.75 395.00,181.60 396.00,181.81 397.00,181.43 398.00,180.95 399.00,180.97 400.00,181.10 401.00,181.19 402.00,179.33 403.00,180.13 404.00,179.30 405.00,180.24 405.97,178.19 406.94,177.87 407.91,177.98 408.89,175.63 409.86,175.37 410.83,173.21 411.80,172.92 412.77,169.38 413.73,169.68 414.70,169.00 415.67,167.51 416.63,171.21 417.60,162.22 418.57,160.81 419.53,164.08 420.50,163.51 421.47,161.23 422.43,162.05 423.40,162.85 424.53,155.99 425.67,152.87 426.80,154.41 427.95,155.15 429.10,151.07 429.98,148.19 430.85,147.91 431.73,146.41 432.60,140.37 433.75,141.32 434.90,134.40 436.05,129.95 437.20,123.52 438.40,122.58 439.20,125.25 440.00,123.34 441.15,126.58 442.30,130.69 443.45,128.92 444.60,125.58 445.63,131.01 446.67,130.31 447.70,132.69 448.50,141.51 449.45,145.63 450.40,141.35 451.35,143.57 452.30,145.97 453.33,146.73 454.37,152.03 455.40,157.70 456.43,151.77 457.47,156.97 458.50,156.33 459.50,163.44 460.50,161.29 461.50,162.31 462.30,164.64 463.10,166.97 464.13,170.37 465.17,172.34 466.20,173.44 467.20,177.10 468.20,177.31 469.20,177.22 470.23,178.78 471.27,180.31 472.30,180.68 473.22,181.26 474.14,181.30 475.06,181.71 475.98,181.85 476.90,182.00" fill="none" stroke="#111" stroke-width="1.0" stroke-linejoin="miter" opacity="1"/>
<text x="0.2" y="240.6" font-family="&quot;Liberation Sans&quot;, sans-serif" font-weight="bold" font-size="18.5" textLength="12.4" lengthAdjust="spacingAndGlyphs" fill="#000" >C</text>
<line x1="38.6" y1="236.2" x2="65.2" y2="236.2" stroke="#000" stroke-width="1.3" />
<text x="38.6" y="234.3" font-family="&quot;Liberation Sans&quot;, sans-serif" font-weight="bold" font-size="10.5" textLength="139.1" lengthAdjust="spacingAndGlyphs" fill="#000" >sort: WT1<tspan font-size="7" dy="2.6">126-134</tspan><tspan dy="-2.6"> multimer</tspan></text>
<line x1="31.6" y1="254.6" x2="31.6" y2="409.7" stroke="#000" stroke-width="2.8"/>
<polygon points="27.700000000000003,255.6 31.6,247.6 35.5,255.6" fill="#000"/>
<text transform="translate(25.4,354) rotate(-90)" font-family="&quot;Liberation Sans&quot;, sans-serif" font-weight="bold" font-size="14" textLength="44" lengthAdjust="spacingAndGlyphs">Events</text>
<polyline points="36.5,248.1 174.6,248.1 174.6,317.7" fill="none" stroke="#999" stroke-width="0.9"/>
<rect x="43" y="249.4" width="127.4" height="61.400000000000006" fill="none" stroke="#8a8a8a" stroke-width="1"/>
<line x1="42.8" y1="317.6" x2="167.9" y2="317.6" stroke="#000" stroke-width="2.8"/>
<polygon points="166.9,314.20000000000005 173.9,317.6 166.9,321.0" fill="#000"/>
<text x="50.8" y="330.6" font-family="&quot;Liberation Sans&quot;, sans-serif" font-weight="bold" font-size="9.5" textLength="108.4" lengthAdjust="spacingAndGlyphs" fill="#000" >WT1<tspan font-size="6.4" dy="2.4">126-134</tspan><tspan dy="-2.4"> multimer-PE</tspan></text>
<text x="102" y="262.3" font-family="&quot;Liberation Sans&quot;, sans-serif" font-weight="bold" font-size="7.5" textLength="44.6" lengthAdjust="spacingAndGlyphs" fill="#000" >vα21<tspan font-size="5.2" dy="2.1">wt</tspan><tspan dy="-2.1"> vβ21</tspan><tspan font-size="5.2" dy="2.1">wt</tspan></text>
<text x="102" y="274.1" font-family="&quot;Liberation Sans&quot;, sans-serif" font-weight="bold" font-size="7.5" textLength="50.0" lengthAdjust="spacingAndGlyphs" fill="#000" >vα21<tspan font-size="5.2" dy="1.8">cys</tspan><tspan dy="-1.8"> vβ21</tspan><tspan font-size="5.2" dy="1.8">cys</tspan></text>
<text x="166.2" y="262.3" font-family="&quot;Liberation Sans&quot;, sans-serif" font-weight="bold" font-size="7.5" text-anchor="end" fill="#000" >21</text>
<text x="166.2" y="274.1" font-family="&quot;Liberation Sans&quot;, sans-serif" font-weight="bold" font-size="7.5" text-anchor="end" fill="#000" >25</text>
<text x="164.2" y="247.8" font-family="&quot;Liberation Sans&quot;, sans-serif" font-weight="bold" font-size="7" text-anchor="end" fill="#000" >%</text>
<line x1="91.4" y1="287.5" x2="168.7" y2="287.5" stroke="#000" stroke-width="0.9"/>
<polyline points="95.4,284.5 91.4,287.5 95.4,290.5" fill="none" stroke="#000" stroke-width="0.9"/>
<polyline points="164.7,284.5 168.7,287.5 164.7,290.5" fill="none" stroke="#000" stroke-width="0.9"/>
<line x1="43.8" y1="310" x2="43.8" y2="301.5" stroke="#333" stroke-width="1" />
<polyline points="44.00,310.40 45.00,310.30 46.00,310.27 47.00,310.13 48.00,310.06 49.00,309.84 50.00,309.85 51.00,309.75 52.00,309.80 53.00,309.63 54.00,309.52 55.00,309.35 56.00,309.24 57.00,309.26 58.00,309.36 59.00,308.82 60.00,308.58 61.00,308.84 62.00,308.31 63.00,307.64 64.00,307.09 65.00,306.40 66.00,305.91 67.00,305.17 68.00,305.18 69.00,303.14 70.00,300.68 71.00,299.40 72.00,297.56 73.00,295.70 73.88,294.03 74.75,290.63 75.62,285.08 76.50,284.33 77.50,279.36 78.50,274.19 79.50,268.52 80.75,260.76 82.00,256.58 83.20,253.26 84.40,251.35 85.40,261.47 86.40,270.97 87.45,279.85 88.50,284.67 89.50,291.40 90.50,296.33 91.40,299.05 92.30,301.64 93.20,305.37 94.30,306.73 95.40,308.24 96.50,309.58 97.56,309.88 98.62,309.84 99.69,310.01 100.75,309.91 101.81,310.07 102.88,310.25 103.94,310.34 105.00,310.40" fill="none" stroke="#9a9a9a" stroke-width="0.9" stroke-dasharray="2 1.1" stroke-linejoin="miter" opacity="1"/>
<polyline points="44.00,310.40 45.00,310.07 46.00,309.97 47.00,309.27 48.00,309.45 49.00,309.60 50.00,309.48 51.00,308.23 52.00,308.01 53.00,307.70 54.00,306.27 55.00,307.75 56.00,306.64 57.00,305.88 58.00,305.48 59.00,304.00 60.00,303.64 61.00,302.59 62.00,301.07 63.00,298.60 64.00,296.41 64.88,296.20 65.75,294.14 66.62,290.75 67.50,291.23 68.50,287.74 69.50,284.52 70.50,281.12 71.50,278.01 72.50,275.38 73.50,269.62 74.50,268.80 75.50,264.31 76.50,261.51 77.75,259.86 79.00,255.27 80.40,252.24 81.45,250.40 82.50,250.42 83.50,251.39 84.50,251.38 85.50,253.70 86.50,258.13 87.50,261.31 88.50,261.94 89.50,265.73 90.50,270.98 91.75,274.90 93.00,275.80 94.00,278.56 95.00,282.41 96.00,285.37 97.00,285.95 98.00,285.14 99.00,289.74 100.00,289.96 101.00,291.21 102.00,293.41 103.00,293.60 104.00,295.31 105.00,294.60 106.00,299.27 107.00,299.58 108.00,300.18 109.00,301.23 110.00,301.87 111.00,302.26 112.00,302.85 113.00,303.81 114.00,303.30 115.00,304.51 116.00,305.94 117.00,307.44 118.00,307.70 119.00,308.22 120.00,308.59 121.00,308.69 122.00,309.26 123.00,309.58 124.00,309.93 125.00,310.05 126.00,310.16 127.00,310.10 128.00,310.12 129.00,310.27 130.00,310.30 131.00,310.36 132.00,310.40" fill="none" stroke="#8a8a8a" stroke-width="0.8" stroke-linejoin="miter" opacity="1"/>
<polyline points="44.00,310.35 44.95,310.30 45.90,309.83 46.85,309.83 47.80,309.19 48.75,309.32 49.70,308.75 50.65,308.95 51.60,308.67 52.55,308.79 53.50,308.17 54.62,307.48 55.75,307.01 56.88,306.14 58.00,307.38 59.00,304.53 60.00,304.80 61.00,304.40 62.00,302.91 62.90,300.54 63.80,300.65 64.70,300.24 65.60,298.84 66.60,294.16 67.60,293.95 68.60,292.87 69.60,293.44 70.57,287.82 71.53,285.75 72.50,285.22 73.50,277.67 74.50,275.56 75.57,269.75 76.63,268.23 77.70,264.04 78.63,261.63 79.57,260.86 80.50,258.05 81.75,255.19 83.00,251.64 84.40,249.60 85.40,251.39 86.40,256.51 87.10,262.01 88.50,263.41 89.80,273.22 90.65,274.46 91.50,277.88 92.25,279.76 93.00,280.30 94.10,279.38 95.20,281.79 96.20,282.68 97.20,287.56 98.20,287.52 99.20,286.62 100.22,290.39 101.25,291.81 102.28,293.40 103.30,295.17 104.30,295.00 105.30,295.76 106.30,298.42 107.30,300.81 108.15,297.54 109.00,297.36 110.04,299.89 111.08,298.76 112.12,298.21 113.16,300.99 114.20,302.93 115.24,303.83 116.28,304.43 117.32,304.17 118.36,305.70 119.40,306.08 120.44,306.65 121.48,307.79 122.52,307.68 123.56,309.13 124.60,309.56 125.64,309.78 126.68,309.90 127.72,309.88 128.76,310.40 129.80,310.40 130.82,310.40 131.84,310.40 132.86,310.40 133.88,310.40 134.90,310.40 135.92,310.40 136.94,310.40 137.96,310.40 138.98,310.40 140.00,310.40" fill="none" stroke="#111" stroke-width="1.0" stroke-linejoin="miter" opacity="1"/>
<polyline points="44.00,310.40 45.02,310.22 46.03,310.15 47.05,310.18 48.07,309.75 49.08,310.40 50.10,309.98 51.12,310.04 52.13,309.86 53.15,309.97 54.17,309.65 55.18,309.83 56.20,309.77 57.17,309.49 58.13,308.91 59.10,309.23 60.07,308.58 61.03,308.42 62.00,308.16 62.98,307.98 63.96,306.14 64.94,306.80 65.92,305.81 66.90,304.36 67.93,304.62 68.97,303.08 70.00,301.03 71.15,297.58 72.30,295.61 73.40,291.71 74.50,291.11 75.40,283.15 76.30,280.91 77.40,272.15 78.50,271.19 79.45,269.15 80.40,263.51 81.45,257.90 82.50,256.41 83.45,255.54 84.40,252.64 85.45,251.58 86.50,250.95 87.50,250.54 88.50,248.86 89.25,252.65 90.00,255.17 91.10,259.59 92.00,260.72 92.90,265.63 93.80,271.43 94.70,272.00 95.60,279.01 96.50,282.03 97.25,286.19 98.00,287.21 98.87,290.69 99.73,292.58 100.60,293.45 101.60,295.75 102.60,296.63 103.60,299.48 104.60,300.11 105.50,300.89 106.40,303.05 107.30,305.93 108.20,306.23 109.10,306.77 110.00,307.20 111.05,307.44 112.10,308.81 113.15,309.36 114.20,309.61 115.18,309.94 116.16,310.18 117.15,310.05 118.13,310.07 119.11,310.19 120.09,310.22 121.07,310.30 122.05,310.21 123.04,310.32 124.02,310.27 125.00,310.40" fill="none" stroke="#666" stroke-width="0.9" stroke-linejoin="miter" opacity="1"/>
<polyline points="36.4,410.5 36.4,342.6 176.8,342.6 176.8,410.1" fill="none" stroke="#999" stroke-width="1.2"/>
<rect x="43.8" y="345.1" width="129.60000000000002" height="61.799999999999955" fill="none" stroke="#8a8a8a" stroke-width="1"/>
<line x1="42.2" y1="415.6" x2="168.6" y2="415.6" stroke="#000" stroke-width="2.8"/>
<polygon points="167.6,412.1 174.6,415.6 167.6,419.1" fill="#000"/>
<text x="87.3" y="428.8" font-family="&quot;Liberation Sans&quot;, sans-serif" font-weight="bold" font-size="9.7" textLength="51.5" lengthAdjust="spacingAndGlyphs" fill="#000" >vβ21- FITC</text>
<text x="109.4" y="356.2" font-family="&quot;Liberation Sans&quot;, sans-serif" font-weight="bold" font-size="7.5" textLength="44.6" lengthAdjust="spacingAndGlyphs" fill="#000" >vα21<tspan font-size="5.2" dy="2.1">wt</tspan><tspan dy="-2.1"> vβ21</tspan><tspan font-size="5.2" dy="2.1">wt</tspan></text>
<text x="109.4" y="368.5" font-family="&quot;Liberation Sans&quot;, sans-serif" font-weight="bold" font-size="7.5" textLength="50.0" lengthAdjust="spacingAndGlyphs" fill="#000" >vα21<tspan font-size="5.2" dy="1.8">cys</tspan><tspan dy="-1.8"> vβ21</tspan><tspan font-size="5.2" dy="1.8">cys</tspan></text>
<text x="170" y="356.2" font-family="&quot;Liberation Sans&quot;, sans-serif" font-weight="bold" font-size="7.5" text-anchor="end" fill="#000" >81</text>
<text x="170" y="368.5" font-family="&quot;Liberation Sans&quot;, sans-serif" font-weight="bold" font-size="7.5" text-anchor="end" fill="#000" >37</text>
<text x="169.4" y="343.3" font-family="&quot;Liberation Sans&quot;, sans-serif" font-weight="bold" font-size="6" text-anchor="end" textLength="12.2" lengthAdjust="spacingAndGlyphs" fill="#000" >MFI</text>
<polyline points="45.00,406.60 46.06,406.26 47.12,405.61 48.19,405.13 49.25,404.86 50.31,404.66 51.38,403.98 52.44,403.21 53.50,402.83 54.50,400.79 55.50,398.93 56.50,396.41 57.50,394.06 58.40,390.98 59.30,388.04 60.20,384.41 61.10,379.89 62.00,375.11 62.90,370.98 63.80,365.48 64.70,361.59 65.60,355.91 66.50,353.89 67.40,350.35 68.30,346.80 69.60,345.80 70.60,349.05 71.60,351.03 72.60,357.17 73.60,362.81 74.50,367.37 75.40,371.87 76.30,374.67 77.20,379.19 78.10,382.16 79.00,386.62 79.90,389.75 80.80,393.41 81.70,397.08 82.60,398.95 83.50,401.40 84.40,403.46 85.43,404.66 86.45,404.89 87.47,405.63 88.50,406.19 89.48,406.21 90.45,406.25 91.43,406.35 92.41,406.35 93.39,406.32 94.36,406.26 95.34,406.42 96.32,406.24 97.30,406.25 98.27,406.33 99.25,406.24 100.23,406.32 101.20,406.36 102.18,406.30 103.16,406.33 104.14,406.30 105.11,406.26 106.09,406.10 107.07,406.22 108.05,406.30 109.02,406.20 110.00,406.27 111.00,406.33 112.00,406.41 113.00,406.27 114.00,406.33 115.00,406.39 116.00,406.42 117.00,406.33 118.00,406.52 119.00,406.40 120.00,406.50 121.00,406.46 122.00,406.50 123.00,406.56 124.00,406.54 125.00,406.53 126.00,406.51 127.00,406.54 128.00,406.54 129.00,406.60 130.00,406.60" fill="none" stroke="#9a9a9a" stroke-width="0.9" stroke-dasharray="2 1.1" stroke-linejoin="miter" opacity="1"/>
<polyline points="44.00,406.60 44.96,406.57 45.93,406.60 46.89,406.57 47.86,406.53 48.82,406.53 49.79,406.43 50.75,406.38 51.71,406.48 52.68,406.36 53.64,406.48 54.61,406.34 55.57,406.12 56.54,406.15 57.50,406.18 58.58,405.30 59.66,405.20 60.74,404.58 61.82,404.51 62.90,403.22 63.90,402.15 64.90,401.29 65.90,400.12 66.90,397.56 67.93,396.54 68.95,391.60 69.97,390.41 71.00,385.76 71.87,381.55 72.73,376.47 73.60,373.84 74.50,374.34 75.40,367.87 76.30,367.93 77.20,365.40 78.10,360.98 79.00,360.60 79.90,359.15 80.80,355.22 81.70,353.13 82.72,353.53 83.75,350.90 84.78,351.45 85.80,347.65 86.70,345.42 87.60,346.58 88.50,344.91 89.37,348.48 90.23,349.56 91.10,349.28 92.00,348.02 92.90,349.60 93.80,347.33 94.70,350.01 95.60,347.90 96.50,349.46 97.40,351.82 98.30,353.90 99.20,361.33 100.10,363.59 101.00,364.25 101.90,369.60 102.80,369.50 103.70,376.52 104.60,379.47 105.47,379.57 106.35,381.46 107.22,384.10 108.10,386.23 109.17,387.48 110.23,389.17 111.30,391.96 112.40,393.99 113.50,397.16 114.60,398.77 115.58,399.84 116.56,399.64 117.54,401.43 118.52,402.43 119.50,403.38 120.48,404.12 121.46,404.62 122.44,404.84 123.42,406.05 124.40,406.50 125.36,406.36 126.33,406.50 127.29,406.37 128.25,406.36 129.22,406.48 130.18,406.60 131.15,406.52 132.11,406.46 133.07,406.58 134.04,406.56 135.00,406.60" fill="none" stroke="#111" stroke-width="1.0" stroke-linejoin="miter" opacity="1"/>
<polyline points="50.00,406.60 51.00,406.40 52.00,406.42 53.00,406.23 54.00,406.02 55.00,405.95 56.00,405.84 57.00,405.81 58.00,405.81 59.00,405.85 60.00,405.55 61.00,404.97 62.00,403.87 63.00,402.83 64.00,401.76 65.00,400.42 66.00,397.93 67.00,396.90 68.00,394.82 69.00,393.24 70.00,389.28 71.00,383.54 72.00,380.09 73.00,375.93 74.00,374.79 75.00,369.79 76.00,367.40 77.00,363.52 78.00,360.41 79.00,359.06 80.00,357.47 81.00,355.97 82.00,351.78 83.00,352.14 84.00,348.90 85.00,348.30 86.00,347.52 87.00,346.41 88.00,347.96 89.00,348.96 90.00,348.82 91.25,347.28 92.50,347.91 93.75,348.61 95.00,349.93 96.00,351.23 97.00,351.00 98.00,354.02 99.25,358.94 100.50,365.01 101.75,368.75 103.00,374.99 104.00,377.09 105.00,378.17 106.00,382.47 107.00,384.91 108.00,386.61 109.00,386.54 110.00,390.34 111.00,391.28 112.00,391.90 113.00,395.12 114.00,396.04 115.00,397.70 116.00,400.55 117.00,402.16 118.00,402.41 119.00,403.16 120.00,404.33 121.00,404.27 122.00,404.41 123.00,404.66 124.00,406.08 125.00,406.50" fill="none" stroke="#222" stroke-width="1.1" stroke-dasharray="1.6 0.7" stroke-linejoin="miter" opacity="1"/>
<polyline points="50.00,406.60 50.98,406.02 51.95,406.14 52.92,406.20 53.90,405.30 54.88,405.19 55.85,404.88 56.82,404.40 57.80,404.06 58.77,403.85 59.75,402.93 60.72,402.02 61.70,401.55 62.67,402.28 63.65,401.83 64.62,401.24 65.60,399.70 66.68,399.96 67.76,399.26 68.84,397.88 69.92,397.20 71.00,398.35 72.00,397.50 73.00,396.80 74.00,396.14 75.00,395.28 76.08,395.60 77.16,396.61 78.24,395.79 79.32,396.48 80.40,398.01 81.48,396.32 82.56,396.94 83.64,398.90 84.72,398.26 85.80,398.41 86.86,396.93 87.92,395.69 88.98,396.70 90.04,393.10 91.10,394.55 92.12,391.71 93.15,390.07 94.17,386.17 95.20,386.98 96.20,383.04 97.20,379.01 98.20,375.46 99.20,369.82 100.22,368.14 101.25,365.12 102.28,361.16 103.30,354.46 104.30,354.71 105.30,351.87 106.30,347.45 107.30,345.67 108.50,351.51 109.70,354.50 110.95,362.58 112.20,367.11 113.00,371.80 113.80,377.78 115.00,382.26 116.20,387.34 117.45,393.27 118.70,397.10 119.80,399.61 120.90,401.00 122.00,403.43 123.00,404.46 124.00,404.86 125.00,405.65 126.00,406.42 127.00,406.34 128.00,406.45 129.00,406.32 130.00,406.50 131.00,406.60 132.00,406.53 133.00,406.47 134.00,406.41 135.00,406.46 136.00,406.53 137.00,406.52 138.00,406.59 139.00,406.59 140.00,406.60" fill="none" stroke="#666" stroke-width="0.9" stroke-linejoin="miter" opacity="1"/>
<text x="196.0" y="239.3" font-family="&quot;Liberation Sans&quot;, sans-serif" font-weight="bold" font-size="18.5" textLength="13.0" lengthAdjust="spacingAndGlyphs" fill="#000" >D</text>
<text x="241.5" y="233.4" font-family="&quot;Liberation Sans&quot;, sans-serif" font-weight="bold" font-size="10.5" textLength="85.4" lengthAdjust="spacingAndGlyphs" fill="#000" >sort: vα21 TCR</text>
<line x1="241.2" y1="235.5" x2="267.8" y2="235.5" stroke="#000" stroke-width="1.3" />
<text x="362" y="233.2" font-family="&quot;Liberation Sans&quot;, sans-serif" font-weight="bold" font-size="10.5" textLength="20.8" lengthAdjust="spacingAndGlyphs" fill="#000" >and</text>
<text x="421.5" y="232.8" font-family="&quot;Liberation Sans&quot;, sans-serif" font-weight="bold" font-size="10.5" textLength="53.9" lengthAdjust="spacingAndGlyphs" fill="#000" >vβ21 TCR</text>
<line x1="220" y1="251.9" x2="220" y2="407" stroke="#000" stroke-width="2.8"/>
<polygon points="216.1,252.9 220,244.9 223.9,252.9" fill="#000"/>
<text transform="translate(213.9,351.4) rotate(-90)" font-family="&quot;Liberation Sans&quot;, sans-serif" font-weight="bold" font-size="14" textLength="44.9" lengthAdjust="spacingAndGlyphs">Events</text>
<polyline points="225.4,247.4 364.4,247.4 364.4,308.3 225.4,308.3" fill="none" stroke="#999" stroke-width="0.9"/>
<rect x="227.2" y="249.9" width="133.2" height="57.400000000000006" fill="none" stroke="#777" stroke-width="1.2"/>
<line x1="227.3" y1="250" x2="227.3" y2="307.3" stroke="#333" stroke-width="1.8" />
<line x1="230" y1="317.2" x2="356.4" y2="317.2" stroke="#000" stroke-width="2.8"/>
<polygon points="355.4,313.8 362.4,317.2 355.4,320.59999999999997" fill="#000"/>
<text x="267.7" y="330.5" font-family="&quot;Liberation Sans&quot;, sans-serif" font-weight="bold" font-size="9.7" textLength="60" lengthAdjust="spacingAndGlyphs" fill="#000" >vα21TAG-PE</text>
<text x="296.1" y="258.2" font-family="&quot;Liberation Sans&quot;, sans-serif" font-weight="bold" font-size="7.5" textLength="44.6" lengthAdjust="spacingAndGlyphs" fill="#000" >vα21<tspan font-size="5.2" dy="2.1">wt</tspan><tspan dy="-2.1"> vβ21</tspan><tspan font-size="5.2" dy="2.1">wt</tspan></text>
<text x="296.1" y="270.3" font-family="&quot;Liberation Sans&quot;, sans-serif" font-weight="bold" font-size="7.5" textLength="50.0" lengthAdjust="spacingAndGlyphs" fill="#000" >vα21<tspan font-size="5.2" dy="1.8">cys</tspan><tspan dy="-1.8"> vβ21</tspan><tspan font-size="5.2" dy="1.8">cys</tspan></text>
<text x="357.2" y="258.2" font-family="&quot;Liberation Sans&quot;, sans-serif" font-weight="bold" font-size="7.5" text-anchor="end" fill="#000" >89</text>
<text x="357.2" y="270.3" font-family="&quot;Liberation Sans&quot;, sans-serif" font-weight="bold" font-size="7.5" text-anchor="end" fill="#000" >83</text>
<text x="355" y="245.8" font-family="&quot;Liberation Sans&quot;, sans-serif" font-weight="bold" font-size="6" text-anchor="end" textLength="12.2" lengthAdjust="spacingAndGlyphs" fill="#000" >MFI</text>
<polyline points="228.40,276.29 229.37,275.18 230.33,270.51 231.30,266.04 232.37,264.99 233.43,261.08 234.50,261.51 235.44,258.36 236.38,256.06 237.32,255.00 238.26,251.61 239.20,251.29 240.13,253.30 241.07,254.93 242.00,256.17 242.97,257.07 243.95,260.41 244.93,261.22 245.90,264.73 247.00,266.22 248.10,268.28 249.20,271.72 250.30,274.91 251.40,277.08 252.50,278.11 253.60,280.65 254.70,282.80 255.80,284.94 256.90,287.31 258.00,289.35 259.10,290.56 260.07,291.82 261.03,292.06 262.00,293.43 262.97,295.47 263.93,296.42 264.90,296.91 265.94,297.11 266.99,297.60 268.03,297.57 269.07,297.78 270.11,299.01 271.16,298.69 272.20,299.80 273.23,299.25 274.26,299.87 275.29,300.75 276.32,300.43 277.35,300.27 278.38,300.57 279.41,299.96 280.44,301.12 281.47,300.56 282.50,300.69 283.54,301.17 284.59,301.89 285.63,302.05 286.67,302.51 287.71,303.30 288.76,303.63 289.80,304.35 290.84,304.42 291.89,304.72 292.93,304.32 293.97,304.83 295.01,305.13 296.06,305.40 297.10,305.34 298.10,305.58 299.09,305.72 300.09,305.37 301.08,305.43 302.08,305.49 303.07,305.73 304.07,305.54 305.07,305.79 306.06,305.75 307.06,305.71 308.05,305.63 309.05,306.35 310.04,306.23 311.04,306.24 312.03,305.88 313.03,306.30 314.03,306.17 315.02,306.09 316.02,306.23 317.01,306.30 318.01,306.61 319.00,306.47 320.00,306.50 321.00,306.57 322.00,306.58 323.00,306.40 324.00,306.68 325.00,306.59 326.00,306.69 327.00,306.77 328.00,306.57 329.00,306.85 330.00,306.60 331.00,306.62 332.00,306.45 333.00,306.80 334.00,306.67 335.00,306.65 336.00,306.66 337.00,306.77 338.00,306.83 339.00,306.81 340.00,306.74 341.00,306.73 342.00,306.65 343.00,306.76 344.00,306.85 345.00,306.80 346.00,306.97 347.00,306.92 348.00,306.85 349.00,306.91 350.00,306.91 351.00,306.87 352.00,306.91 353.00,306.87 354.00,306.94 355.00,306.99 356.00,306.96 357.00,307.00 358.00,307.00" fill="none" stroke="#9a9a9a" stroke-width="0.9" stroke-dasharray="2 1.1" stroke-linejoin="miter" opacity="1"/>
<polyline points="228.50,297.98 229.80,297.22 230.78,297.64 231.77,298.02 232.75,297.61 233.73,295.12 234.72,293.23 235.70,291.71 236.67,290.14 237.63,287.79 238.60,285.46 239.57,283.70 240.53,288.17 241.50,284.72 242.48,285.76 243.47,279.29 244.45,281.77 245.43,279.94 246.42,280.26 247.40,277.01 248.37,278.91 249.33,278.29 250.30,278.32 251.27,269.99 252.23,271.22 253.20,276.31 254.18,278.39 255.17,273.35 256.15,271.01 257.13,273.92 258.12,271.25 259.10,270.76 260.07,272.54 261.03,268.98 262.00,264.35 262.97,265.85 263.93,268.00 264.90,264.04 266.00,265.30 267.10,261.79 268.20,262.77 269.30,258.96 270.20,260.41 271.10,255.90 272.00,252.61 273.25,253.91 274.50,251.31 275.25,250.46 276.00,246.46 277.00,249.06 278.00,252.43 279.00,251.12 280.00,247.63 281.00,252.80 282.00,251.21 283.00,250.44 284.20,252.91 285.40,257.02 286.27,261.31 287.13,257.96 288.00,265.22 289.07,265.35 290.15,271.26 291.23,272.70 292.30,274.66 293.34,277.59 294.38,282.47 295.42,284.99 296.46,280.20 297.50,288.67 298.54,286.95 299.58,285.17 300.62,292.55 301.66,290.50 302.70,292.56 303.76,296.10 304.82,295.47 305.88,297.07 306.94,299.57 308.00,299.44 309.00,296.39 310.00,299.70 311.00,299.23 312.00,299.95 313.00,300.55 314.00,302.61 315.00,303.09 316.00,302.96 317.00,304.22 318.00,303.60 319.00,303.44 320.00,304.63 321.00,304.43 322.00,304.34 323.00,305.14 324.00,305.05 325.00,304.80 326.00,304.86 327.00,304.72 328.00,304.60 329.00,306.67 330.00,305.68 331.00,304.31 332.00,305.68 333.00,305.28 334.00,305.21 335.00,305.59 336.00,305.96 337.00,306.37 338.00,305.82 339.00,305.90 340.00,306.26 341.00,305.10 342.00,305.48 343.00,305.61 344.00,306.65 345.00,306.17 346.00,305.95 347.00,306.10 348.00,306.03 349.00,306.60 350.00,306.53 351.00,306.75 352.00,306.82 353.00,306.90 354.00,306.85 355.00,306.73 356.00,306.93 357.00,306.93 358.00,307.00" fill="none" stroke="#666" stroke-width="0.9" stroke-linejoin="miter" opacity="1"/>
<polyline points="228.50,297.96 229.80,298.08 230.78,298.81 231.77,297.96 232.75,298.74 233.73,297.80 234.72,296.66 235.70,297.14 236.67,296.28 237.63,295.24 238.60,295.82 239.57,294.23 240.53,295.63 241.50,294.41 242.48,292.69 243.47,292.10 244.45,292.22 245.43,289.59 246.42,289.96 247.40,288.07 248.37,288.47 249.33,287.36 250.30,287.69 251.27,285.22 252.23,284.44 253.20,284.83 254.18,281.76 255.17,282.77 256.15,280.20 257.13,278.40 258.12,279.39 259.10,278.18 260.07,276.10 261.03,277.24 262.00,276.27 262.97,273.01 263.93,272.17 264.90,271.68 265.88,270.61 266.87,269.08 267.85,269.47 268.83,267.86 269.82,267.05 270.80,265.87 271.77,264.85 272.73,262.56 273.70,261.32 274.67,260.57 275.63,259.43 276.60,259.60 277.70,257.32 278.80,254.45 279.90,252.53 281.00,253.34 281.90,251.61 282.80,251.25 283.67,250.00 284.53,251.88 285.40,253.62 286.25,254.79 287.10,253.36 287.95,259.03 288.80,264.02 289.68,266.67 290.55,268.28 291.43,271.13 292.30,272.87 293.18,275.90 294.05,276.04 294.93,277.29 295.80,278.63 296.93,282.37 298.07,282.62 299.20,285.69 300.07,288.31 300.95,290.72 301.82,288.98 302.70,291.35 303.83,293.04 304.97,294.18 306.10,296.54 307.14,296.67 308.18,296.87 309.22,298.77 310.26,299.44 311.30,300.10 312.30,299.78 313.30,301.14 314.30,302.42 315.30,302.01 316.30,302.94 317.30,302.59 318.30,303.51 319.26,303.71 320.21,304.31 321.17,304.86 322.12,304.31 323.08,304.91 324.03,305.03 324.99,304.85 325.94,305.38 326.90,305.39 327.92,305.59 328.94,305.38 329.95,305.78 330.97,305.88 331.99,305.80 333.01,305.73 334.02,305.55 335.04,305.74 336.06,306.26 337.08,306.15 338.09,306.10 339.11,306.43 340.13,306.40 341.15,306.24 342.16,306.43 343.18,306.62 344.20,306.63 345.19,306.57 346.17,306.59 347.16,306.36 348.14,306.66 349.13,306.59 350.11,306.90 351.10,306.92 352.09,306.86 353.07,306.91 354.06,306.92 355.04,307.00 356.03,307.00 357.01,307.00 358.00,307.10" fill="none" stroke="#111" stroke-width="1.0" stroke-linejoin="miter" opacity="1"/>
<polyline points="228.50,298.69 229.80,298.96 230.78,298.19 231.77,297.89 232.75,298.07 233.73,297.74 234.72,296.66 235.70,296.78 236.67,295.33 237.63,296.29 238.60,295.39 239.57,294.93 240.53,294.60 241.50,293.78 242.48,294.40 243.47,293.23 244.45,290.75 245.43,292.55 246.42,291.01 247.40,290.36 248.37,287.28 249.33,287.32 250.30,286.10 251.27,284.93 252.23,284.59 253.20,284.66 254.18,282.60 255.17,281.63 256.15,280.70 257.13,278.44 258.12,278.52 259.10,278.57 260.07,277.18 261.03,275.32 262.00,275.29 262.97,274.32 263.93,273.15 264.90,272.47 265.88,272.15 266.87,270.11 267.85,269.12 268.83,267.14 269.82,266.44 270.80,266.33 271.77,266.26 272.73,263.00 273.70,261.99 274.67,260.61 275.63,260.46 276.60,259.81 277.70,257.40 278.80,256.44 279.90,253.47 281.00,252.10 281.90,251.77 282.80,252.07 283.67,250.67 284.53,253.08 285.40,252.86 286.25,252.50 287.10,252.21 287.95,259.01 288.80,264.06 289.68,265.41 290.55,267.71 291.43,270.48 292.30,271.83 293.18,275.16 294.05,276.41 294.93,279.68 295.80,279.64 296.93,282.66 298.07,284.53 299.20,286.67 300.07,287.26 300.95,289.77 301.82,289.47 302.70,292.33 303.83,292.74 304.97,293.63 306.10,296.97 307.14,296.29 308.18,296.80 309.22,298.32 310.26,298.90 311.30,299.98 312.30,300.45 313.30,300.97 314.30,301.27 315.30,301.72 316.30,302.07 317.30,303.10 318.30,304.14 319.26,304.10 320.21,304.25 321.17,304.72 322.12,304.67 323.08,304.47 324.03,304.72 324.99,305.26 325.94,305.69 326.90,305.07 327.92,305.43 328.94,305.35 329.95,305.38 330.97,305.85 331.99,305.60 333.01,306.09 334.02,305.77 335.04,306.14 336.06,305.84 337.08,306.08 338.09,306.34 339.11,306.00 340.13,306.35 341.15,306.21 342.16,306.37 343.18,306.60 344.20,306.41 345.19,306.68 346.17,306.67 347.16,306.67 348.14,306.74 349.13,306.81 350.11,306.77 351.10,306.96 352.09,306.88 353.07,306.91 354.06,306.96 355.04,306.97 356.03,307.00 357.01,307.00 358.00,307.10" fill="none" stroke="#111" stroke-width="0.8" stroke-linejoin="miter" opacity="1"/>
<line x1="373.5" y1="245.4" x2="516.5" y2="245.4" stroke="#999" stroke-width="1.1" />
<line x1="373.5" y1="311.1" x2="516.5" y2="311.1" stroke="#999" stroke-width="1.1" />
<polyline points="381.5,247.7 381.5,306.9 513.6,306.9 513.6,247.7" fill="none" stroke="#8a8a8a" stroke-width="1"/>
<line x1="381" y1="317.2" x2="507.29999999999995" y2="317.2" stroke="#000" stroke-width="2.8"/>
<polygon points="506.29999999999995,313.8 513.3,317.2 506.29999999999995,320.59999999999997" fill="#000"/>
<text x="418.5" y="330.6" font-family="&quot;Liberation Sans&quot;, sans-serif" font-weight="bold" font-size="9.6" textLength="51.1" lengthAdjust="spacingAndGlyphs" fill="#000" >vβ21- FITC</text>
<text x="449.2" y="258.4" font-family="&quot;Liberation Sans&quot;, sans-serif" font-weight="bold" font-size="7.5" textLength="44.6" lengthAdjust="spacingAndGlyphs" fill="#000" >vα21<tspan font-size="5.2" dy="2.1">wt</tspan><tspan dy="-2.1"> vβ21</tspan><tspan font-size="5.2" dy="2.1">wt</tspan></text>
<text x="449.2" y="270.5" font-family="&quot;Liberation Sans&quot;, sans-serif" font-weight="bold" font-size="7.5" textLength="50.0" lengthAdjust="spacingAndGlyphs" fill="#000" >vα21<tspan font-size="5.2" dy="1.8">cys</tspan><tspan dy="-1.8"> vβ21</tspan><tspan font-size="5.2" dy="1.8">cys</tspan></text>
<text x="510.5" y="258.4" font-family="&quot;Liberation Sans&quot;, sans-serif" font-weight="bold" font-size="7.5" text-anchor="end" fill="#000" >17</text>
<text x="510.5" y="270.5" font-family="&quot;Liberation Sans&quot;, sans-serif" font-weight="bold" font-size="7.5" text-anchor="end" fill="#000" >17</text>
<text x="507.9" y="245.4" font-family="&quot;Liberation Sans&quot;, sans-serif" font-weight="bold" font-size="6" text-anchor="end" textLength="12.2" lengthAdjust="spacingAndGlyphs" fill="#000" >MFI</text>
<polyline points="382.80,304.40 383.80,299.89 384.80,295.65 385.80,290.37 386.83,284.45 387.87,279.42 388.90,271.94 390.05,269.54 391.20,263.79 392.35,257.48 393.50,250.92 394.30,250.38 395.10,249.22 396.25,250.39 397.40,251.65 398.55,255.63 399.70,259.89 400.85,263.74 402.00,269.61 403.15,275.35 404.30,278.81 405.33,284.84 406.37,287.78 407.40,292.15 408.35,294.39 409.30,296.53 410.25,298.89 411.20,301.48 412.28,301.79 413.36,303.34 414.44,303.40 415.52,304.58 416.60,305.41 417.62,305.30 418.64,305.55 419.67,305.65 420.69,305.72 421.71,305.87 422.73,306.34 423.76,306.38 424.78,306.35 425.80,306.52 426.81,306.53 427.81,306.54 428.82,306.55 429.82,306.53 430.83,306.46 431.84,306.55 432.84,306.42 433.85,306.55 434.85,306.51 435.86,306.50 436.86,306.58 437.87,306.49 438.88,306.60 439.88,306.53 440.89,306.57 441.89,306.54 442.90,306.53 443.91,306.60 444.91,306.60 445.92,306.57 446.92,306.58 447.93,306.56 448.94,306.60 449.94,306.60 450.95,306.60 451.95,306.56 452.96,306.57 453.96,306.55 454.97,306.58 455.98,306.59 456.98,306.57 457.99,306.58 458.99,306.60 460.00,306.60" fill="none" stroke="#9a9a9a" stroke-width="0.9" stroke-dasharray="2 1.1" stroke-linejoin="miter" opacity="1"/>
<polyline points="382.80,300.85 383.72,299.47 384.64,299.35 385.56,296.30 386.48,294.38 387.40,293.32 388.32,287.19 389.24,286.96 390.16,284.14 391.08,278.64 392.00,281.03 393.03,271.07 394.07,267.23 395.10,263.80 396.13,261.85 397.17,259.82 398.20,250.54 399.35,249.15 400.50,251.78 401.45,248.74 402.40,248.54 403.35,249.05 404.30,252.42 405.45,252.78 406.60,253.96 407.75,251.16 408.90,249.83 409.93,253.29 410.97,253.97 412.00,255.57 413.03,262.14 414.07,263.92 415.10,263.37 416.13,269.29 417.17,268.65 418.20,268.24 419.20,272.94 420.20,274.98 421.20,275.68 422.23,282.30 423.27,279.53 424.30,286.11 425.33,285.51 426.37,289.48 427.40,290.04 428.43,293.14 429.47,290.73 430.50,295.20 431.50,297.75 432.50,297.05 433.50,300.69 434.53,300.22 435.57,301.02 436.60,300.47 437.63,299.70 438.67,302.49 439.70,303.09 440.72,303.97 441.73,303.57 442.75,303.47 443.77,304.26 444.78,304.23 445.80,304.99 446.81,305.45 447.83,305.61 448.84,305.90 449.86,305.50 450.87,306.07 451.89,305.89 452.90,305.61 453.91,305.83 454.93,306.16 455.94,306.11 456.96,306.22 457.97,306.49 458.99,306.37 460.00,306.60" fill="none" stroke="#666" stroke-width="0.9" stroke-linejoin="miter" opacity="1"/>
<polyline points="382.80,306.31 383.72,304.98 384.64,303.00 385.56,303.17 386.48,301.50 387.40,300.35 388.32,298.36 389.24,298.25 390.16,295.72 391.08,294.41 392.00,290.39 393.03,286.47 394.07,281.77 395.10,279.56 396.13,271.79 397.17,277.02 398.20,271.10 399.35,265.60 400.50,261.70 401.65,254.72 402.80,251.31 403.80,251.56 404.80,246.30 405.80,251.87 406.83,248.54 407.87,249.19 408.90,245.75 409.93,247.05 410.97,251.99 412.00,248.21 413.03,249.49 414.07,252.22 415.10,255.09 416.13,249.21 417.17,258.25 418.20,257.46 419.20,260.74 420.20,259.11 421.20,263.73 422.23,267.78 423.27,266.02 424.30,266.53 425.33,267.40 426.37,267.72 427.40,270.77 428.43,271.69 429.47,272.42 430.50,276.96 431.50,275.43 432.50,276.87 433.50,286.47 434.63,283.49 435.77,290.28 436.90,290.30 437.77,291.40 438.65,293.78 439.52,293.17 440.40,294.55 441.44,296.39 442.48,297.22 443.52,299.46 444.56,301.68 445.60,299.62 446.64,300.65 447.68,302.74 448.72,303.20 449.76,304.28 450.80,303.77 451.79,304.75 452.77,304.58 453.76,303.97 454.74,305.23 455.73,304.49 456.71,305.64 457.70,305.43 458.69,305.58 459.67,306.48 460.66,306.29 461.64,305.93 462.63,305.96 463.61,305.61 464.60,306.31 465.64,306.08 466.68,305.56 467.72,305.25 468.76,305.79 469.80,305.69 470.84,306.04 471.88,305.32 472.92,305.34 473.96,305.80 475.00,305.64 475.99,306.08 476.97,306.24 477.96,305.72 478.94,305.48 479.93,306.26 480.91,306.24 481.90,306.53 482.91,306.19 483.91,306.50 484.92,306.53 485.92,306.46 486.93,306.58 487.93,306.55 488.94,306.56 489.94,306.60 490.95,306.60 491.96,306.60 492.96,306.59 493.97,306.58 494.97,306.60 495.98,306.60 496.98,306.55 497.99,306.60 498.99,306.60 500.00,306.60" fill="none" stroke="#111" stroke-width="1.0" stroke-linejoin="miter" opacity="1"/>
<polyline points="383.00,306.17 384.00,304.77 385.00,302.73 386.00,303.40 387.00,298.97 388.00,299.04 389.12,297.60 390.25,294.90 391.38,292.44 392.50,287.47 393.38,289.17 394.25,281.77 395.12,279.95 396.00,277.05 397.00,273.36 398.00,268.73 399.00,268.91 400.25,261.17 401.50,257.89 402.75,250.14 404.00,251.16 405.00,249.15 406.00,249.80 407.00,248.95 408.00,249.20 409.00,248.04 410.00,248.20 411.00,249.14 412.00,250.15 413.00,250.65 414.00,251.02 415.00,253.69 416.00,252.48 417.00,259.52 418.00,258.97 419.00,261.87 420.00,260.83 421.00,260.67 422.00,262.26 423.00,264.75 424.00,266.22 425.00,267.82 426.00,268.69 427.00,271.35 428.00,266.69 429.00,276.11 430.00,274.39 431.00,277.30 432.00,275.74 433.00,281.48 434.00,280.44 434.88,285.87 435.75,287.48 436.62,289.29 437.50,290.76 438.38,292.01 439.25,293.34 440.12,296.26 441.00,296.61 442.00,297.68 443.00,300.85 444.00,299.30 445.00,299.25 446.00,299.06 447.00,299.58 448.00,302.26 449.00,303.39 450.00,302.65 451.00,303.22 452.00,304.40 453.00,304.74 454.00,305.29 455.00,304.94 456.00,304.87 457.00,305.60 458.00,305.11 459.00,305.12 460.00,305.44 461.00,305.71 462.00,305.70 463.00,305.86 464.00,305.89 465.00,306.60 466.00,306.05 467.00,305.30 468.00,305.54 469.00,306.03 470.00,305.76 471.00,306.60 472.00,305.93 473.00,305.97 474.00,306.13 475.00,306.06 476.00,306.28 477.00,306.11 478.00,306.27 479.00,306.08 480.00,305.67 481.00,306.36 482.00,306.60 483.00,306.14 484.00,306.25 485.00,306.51 486.00,306.31 487.00,306.44 488.00,306.42 489.00,306.55 490.00,306.50" fill="none" stroke="#222" stroke-width="1.1" stroke-dasharray="1.6 0.7" stroke-linejoin="miter" opacity="1"/>
<line x1="293.4" y1="341.7" x2="423" y2="341.7" stroke="#999" stroke-width="1" />
<line x1="423" y1="341.7" x2="423" y2="404.7" stroke="#8a8a8a" stroke-width="1" />
<line x1="291" y1="404.7" x2="423" y2="404.7" stroke="#999" stroke-width="1.2" />
<line x1="291" y1="413.2" x2="416.1" y2="413.2" stroke="#000" stroke-width="2.6"/>
<polygon points="415.1,409.9 421.5,413.2 415.1,416.5" fill="#000"/>
<text x="300.1" y="427.3" font-family="&quot;Liberation Sans&quot;, sans-serif" font-weight="bold" font-size="9.5" textLength="109.1" lengthAdjust="spacingAndGlyphs" fill="#000" >WT1<tspan font-size="6.4" dy="2.5">126-134</tspan><tspan dy="-2.5"> multimer-PE</tspan></text>
<text x="359.4" y="349.9" font-family="&quot;Liberation Sans&quot;, sans-serif" font-weight="bold" font-size="7.5" textLength="44.6" lengthAdjust="spacingAndGlyphs" fill="#000" >vα21<tspan font-size="5.2" dy="2.1">wt</tspan><tspan dy="-2.1"> vβ21</tspan><tspan font-size="5.2" dy="2.1">wt</tspan></text>
<text x="359.4" y="362.9" font-family="&quot;Liberation Sans&quot;, sans-serif" font-weight="bold" font-size="7.5" textLength="50.0" lengthAdjust="spacingAndGlyphs" fill="#000" >vα21<tspan font-size="5.2" dy="1.8">cys</tspan><tspan dy="-1.8"> vβ21</tspan><tspan font-size="5.2" dy="1.8">cys</tspan></text>
<text x="420.4" y="349.9" font-family="&quot;Liberation Sans&quot;, sans-serif" font-weight="bold" font-size="7.5" text-anchor="end" fill="#000" >4</text>
<text x="420.4" y="362.9" font-family="&quot;Liberation Sans&quot;, sans-serif" font-weight="bold" font-size="7.5" text-anchor="end" fill="#000" >10</text>
<text x="420.2" y="337.2" font-family="&quot;Liberation Sans&quot;, sans-serif" font-weight="bold" font-size="7" text-anchor="end" fill="#000" >%</text>
<line x1="349.5" y1="382.5" x2="420.4" y2="382.5" stroke="#444" stroke-width="0.9"/>
<polyline points="353.5,379.5 349.5,382.5 353.5,385.5" fill="none" stroke="#444" stroke-width="0.9"/>
<polyline points="416.4,379.5 420.4,382.5 416.4,385.5" fill="none" stroke="#444" stroke-width="0.9"/>
<line x1="294.3" y1="404.3" x2="294.3" y2="396.2" stroke="#222" stroke-width="1" />
<polyline points="294.70,404.30 295.73,404.20 296.76,404.16 297.79,404.02 298.82,403.90 299.85,403.77 300.88,403.86 301.91,403.71 302.94,403.58 303.97,403.46 305.00,403.22 306.00,402.79 307.00,401.91 308.00,401.36 309.00,401.00 310.00,399.88 310.98,399.31 311.96,398.99 312.94,398.04 313.92,397.52 314.90,396.48 315.98,394.36 317.06,391.87 318.14,390.81 319.22,388.81 320.30,385.81 321.30,382.63 322.30,379.13 323.30,377.63 324.30,373.28 325.32,368.91 326.35,365.71 327.38,362.40 328.40,357.30 329.30,355.14 330.20,352.00 331.10,348.52 332.00,346.71 332.90,344.70 333.80,341.73 334.80,341.50 335.80,342.27 336.80,346.56 337.80,351.47 338.80,359.09 339.80,364.85 340.80,371.34 341.80,377.33 342.85,385.01 343.90,391.67 344.90,396.47 345.90,401.13 347.20,404.30" fill="none" stroke="#9a9a9a" stroke-width="0.9" stroke-dasharray="2 1.1" stroke-linejoin="miter" opacity="1"/>
<polyline points="294.70,404.30 295.67,404.18 296.64,404.23 297.61,403.77 298.59,404.01 299.56,403.69 300.53,403.89 301.50,403.53 302.56,403.04 303.62,402.69 304.68,401.83 305.74,401.50 306.80,400.91 307.88,400.84 308.96,399.51 310.04,397.59 311.12,397.91 312.20,397.02 313.28,395.79 314.36,395.68 315.44,394.40 316.52,391.33 317.60,392.55 318.60,388.65 319.60,386.25 320.60,383.78 321.60,381.80 322.50,380.15 323.40,375.10 324.30,373.64 325.20,370.26 326.10,368.14 327.00,365.19 327.90,363.72 328.80,361.23 329.70,356.45 330.60,354.75 331.50,349.44 332.40,348.38 333.40,346.69 334.40,343.16 335.45,345.96 336.50,343.42 337.50,343.57 338.50,346.58 339.50,346.37 340.50,348.85 341.80,353.41 343.20,363.11 344.50,367.94 345.90,376.93 346.80,379.64 347.70,380.55 348.60,381.48 349.50,382.30 350.40,384.51 351.25,386.98 352.10,389.13 353.14,390.22 354.18,390.52 355.22,389.82 356.26,391.23 357.30,392.10 358.34,391.67 359.38,390.72 360.42,392.62 361.46,393.59 362.50,392.00 363.54,393.35 364.58,394.10 365.62,396.62 366.66,396.53 367.70,396.30 368.74,397.60 369.78,397.77 370.82,397.19 371.86,398.38 372.90,399.63 373.94,399.51 374.98,401.35 376.02,400.50 377.06,401.07 378.10,401.67 379.14,402.28 380.18,402.76 381.22,403.58 382.26,404.13 383.30,404.30 384.26,404.30 385.21,404.30 386.17,404.30 387.13,404.30 388.09,404.30 389.04,404.30 390.00,404.30" fill="none" stroke="#111" stroke-width="1.0" stroke-linejoin="miter" opacity="1"/>
<polyline points="294.70,404.30 295.76,404.16 296.82,404.10 297.88,403.69 298.94,403.80 300.00,404.30 301.00,403.05 302.00,402.87 303.00,402.74 304.00,401.46 305.00,401.94 306.00,401.85 307.00,400.66 308.00,399.46 309.00,399.60 310.00,398.39 311.00,398.10 312.00,396.97 313.00,395.86 314.00,394.19 315.00,395.33 316.00,392.48 317.00,391.22 318.00,389.01 319.00,386.69 319.88,385.39 320.75,382.76 321.62,380.71 322.50,378.33 323.50,374.85 324.50,372.96 325.50,370.47 326.50,368.48 327.50,363.05 328.50,362.65 329.75,353.13 331.00,350.60 332.25,348.54 333.50,344.16 334.50,344.46 335.50,339.48 336.50,341.21 337.50,341.65 338.50,345.45 339.50,349.02 340.25,347.31 341.00,350.16 341.75,352.95 342.50,359.11 343.25,363.29 344.00,367.91 344.75,369.29 345.50,373.54 346.50,375.27 347.50,377.65 348.75,379.77 350.00,382.54 351.00,381.75 352.00,387.76 353.00,388.19 354.00,390.94 355.00,390.88 356.00,390.35 357.00,391.28 358.00,392.58 359.00,391.15 360.00,393.57 361.00,393.07 362.00,393.76 363.00,393.52 364.00,394.51 365.00,394.29 366.00,394.72 367.00,396.29 368.00,397.23 369.00,397.25 370.00,396.50 371.00,397.86 372.00,398.10 373.00,398.90 374.00,399.10 375.00,399.70 376.00,400.70 377.00,400.86 378.00,401.53 379.00,401.82 380.00,402.18 381.00,402.89 382.00,403.13 383.00,403.72 384.00,403.77 385.00,403.89 386.00,404.19 387.00,404.07 388.00,404.30" fill="none" stroke="#222" stroke-width="1.1" stroke-dasharray="1.6 0.7" stroke-linejoin="miter" opacity="1"/>
<polyline points="294.70,404.30 295.74,404.30 296.77,404.30 297.81,403.93 298.85,403.98 299.89,403.46 300.93,403.96 301.96,403.60 303.00,403.51 304.00,403.44 305.00,402.12 306.00,402.19 307.00,400.99 308.00,400.85 309.00,401.12 310.00,398.30 311.00,398.12 312.00,398.71 313.00,397.40 314.00,395.56 315.12,394.89 316.25,393.18 317.38,390.85 318.50,387.86 319.38,387.38 320.25,386.03 321.12,381.19 322.00,382.20 323.00,377.79 324.00,375.40 325.00,368.39 326.00,370.29 327.00,366.59 328.00,363.89 329.25,356.99 330.50,354.57 331.75,350.36 333.00,347.35 334.00,348.39 335.00,340.53 336.00,344.28 337.00,342.39 338.00,345.12 339.00,348.42 340.00,348.41 341.00,350.19 342.10,360.30 343.20,368.56 344.10,374.51 345.00,381.06 345.90,386.28 346.80,389.10 347.70,391.55 348.60,394.94 349.60,396.07 350.60,395.93 351.60,396.86 352.60,397.92 353.54,398.80 354.48,399.23 355.42,398.69 356.36,398.63 357.30,398.78 358.27,398.91 359.23,399.24 360.20,399.18 361.17,400.01 362.13,400.27 363.10,400.42 364.07,399.91 365.03,401.54 366.00,401.39 366.96,401.19 367.91,401.90 368.87,402.25 369.82,402.28 370.78,402.00 371.73,402.75 372.69,403.23 373.64,403.87 374.60,404.18 375.64,404.12 376.68,404.02 377.72,404.19 378.76,404.10 379.80,404.30 380.84,404.22 381.88,404.21 382.92,404.21 383.96,404.28 385.00,404.30" fill="none" stroke="#666" stroke-width="0.9" stroke-linejoin="miter" opacity="1"/>
<text x="0.0" y="471.9" font-family="&quot;Liberation Sans&quot;, sans-serif" font-weight="bold" font-size="18.5" textLength="11.8" lengthAdjust="spacingAndGlyphs" fill="#000" >E</text>
<line x1="44" y1="474.4" x2="44" y2="613" stroke="#666" stroke-width="0.9" />
<line x1="41.8" y1="613.0" x2="44" y2="613.0" stroke="#666" stroke-width="0.9" />
<text x="41.2" y="615.1" font-family="&quot;Liberation Sans&quot;, sans-serif" font-weight="bold" font-size="6" text-anchor="end" fill="#000" >0</text>
<line x1="41.8" y1="585.28" x2="44" y2="585.28" stroke="#666" stroke-width="0.9" />
<text x="41.2" y="587.38" font-family="&quot;Liberation Sans&quot;, sans-serif" font-weight="bold" font-size="6" text-anchor="end" fill="#000" >10</text>
<line x1="41.8" y1="557.56" x2="44" y2="557.56" stroke="#666" stroke-width="0.9" />
<text x="41.2" y="559.66" font-family="&quot;Liberation Sans&quot;, sans-serif" font-weight="bold" font-size="6" text-anchor="end" fill="#000" >20</text>
<line x1="41.8" y1="529.84" x2="44" y2="529.84" stroke="#666" stroke-width="0.9" />
<text x="41.2" y="531.94" font-family="&quot;Liberation Sans&quot;, sans-serif" font-weight="bold" font-size="6" text-anchor="end" fill="#000" >30</text>
<line x1="41.8" y1="502.12" x2="44" y2="502.12" stroke="#666" stroke-width="0.9" />
<text x="41.2" y="504.22" font-family="&quot;Liberation Sans&quot;, sans-serif" font-weight="bold" font-size="6" text-anchor="end" fill="#000" >40</text>
<line x1="41.8" y1="474.4" x2="44" y2="474.4" stroke="#666" stroke-width="0.9" />
<text x="41.2" y="476.5" font-family="&quot;Liberation Sans&quot;, sans-serif" font-weight="bold" font-size="6" text-anchor="end" fill="#000" >50</text>
<text transform="translate(30.3,556.9) rotate(-90)" font-family="&quot;Liberation Sans&quot;, sans-serif" font-weight="bold" font-size="6" textLength="33.2" lengthAdjust="spacingAndGlyphs">MFI αβTCR</text>
<rect x="62.6" y="496.7" width="22" height="116.3" fill="#bdbdbd" stroke="#555" stroke-width="0.9"/>
<line x1="73.8" y1="496.7" x2="73.8" y2="479.1" stroke="#555" stroke-width="1.1" />
<line x1="68.2" y1="479.1" x2="79.39999999999999" y2="479.1" stroke="#555" stroke-width="1.1" />
<rect x="96.2" y="505" width="21" height="108" fill="#000" stroke="#000" stroke-width="0.9"/>
<line x1="107.1" y1="505" x2="107.1" y2="490.6" stroke="#555" stroke-width="1.1" />
<line x1="101.8" y1="490.6" x2="112.39999999999999" y2="490.6" stroke="#555" stroke-width="1.1" />
<rect x="129.1" y="497.6" width="21.4" height="115.4" fill="#fff" stroke="#555" stroke-width="0.9"/>
<line x1="139.6" y1="497.6" x2="139.6" y2="479.5" stroke="#555" stroke-width="1.1" />
<line x1="134.0" y1="479.5" x2="145.2" y2="479.5" stroke="#555" stroke-width="1.1" />
<line x1="50.6" y1="620.6" x2="160.8" y2="620.6" stroke="#777" stroke-width="1.5" />
<text transform="translate(75.5,628.5) rotate(-42)" font-family="&quot;Liberation Sans&quot;, sans-serif" font-weight="bold" font-size="5.6" text-anchor="end" textLength="18" lengthAdjust="spacingAndGlyphs">Mock</text>
<text transform="translate(109.8,628.2) rotate(-42)" font-family="&quot;Liberation Sans&quot;, sans-serif" font-weight="bold" font-size="5.6" text-anchor="end" textLength="44.5" lengthAdjust="spacingAndGlyphs">vα21wtvβ21wt</text>
<text transform="translate(140.5,628.2) rotate(-42)" font-family="&quot;Liberation Sans&quot;, sans-serif" font-weight="bold" font-size="5.6" text-anchor="end" textLength="51.5" lengthAdjust="spacingAndGlyphs">vα21cysvβ21cys</text>
<line x1="211.2" y1="480.3" x2="211.2" y2="612.8" stroke="#666" stroke-width="0.9" />
<line x1="208.89999999999998" y1="612.8" x2="211.2" y2="612.8" stroke="#666" stroke-width="0.9" />
<text x="208.39999999999998" y="614.9" font-family="&quot;Liberation Sans&quot;, sans-serif" font-weight="bold" font-size="6" text-anchor="end" fill="#000" >0</text>
<line x1="208.89999999999998" y1="581.1999999999999" x2="211.2" y2="581.1999999999999" stroke="#666" stroke-width="0.9" />
<text x="208.39999999999998" y="583.3" font-family="&quot;Liberation Sans&quot;, sans-serif" font-weight="bold" font-size="6" text-anchor="end" fill="#000" >25</text>
<line x1="208.89999999999998" y1="549.5999999999999" x2="211.2" y2="549.5999999999999" stroke="#666" stroke-width="0.9" />
<text x="208.39999999999998" y="551.6999999999999" font-family="&quot;Liberation Sans&quot;, sans-serif" font-weight="bold" font-size="6" text-anchor="end" fill="#000" >50</text>
<line x1="208.89999999999998" y1="518.0" x2="211.2" y2="518.0" stroke="#666" stroke-width="0.9" />
<text x="208.39999999999998" y="520.1" font-family="&quot;Liberation Sans&quot;, sans-serif" font-weight="bold" font-size="6" text-anchor="end" fill="#000" >75</text>
<line x1="208.89999999999998" y1="486.4" x2="211.2" y2="486.4" stroke="#666" stroke-width="0.9" />
<text x="208.39999999999998" y="488.5" font-family="&quot;Liberation Sans&quot;, sans-serif" font-weight="bold" font-size="6" text-anchor="end" fill="#000" >100</text>
<text transform="translate(192.3,0) rotate(-90)" font-family="&quot;Liberation Sans&quot;, sans-serif" font-weight="bold" font-size="6.6"></text>
<rect x="221.2" y="609.64" width="4.3" height="3.16" fill="#000"/>
<rect x="227.1" y="608.38" width="3.7" height="4.42" fill="#fff" stroke="#444" stroke-width="0.8"/>
<rect x="238.9" y="486.40" width="4.3" height="126.40" fill="#000"/>
<rect x="244.6" y="486.40" width="3.7" height="126.40" fill="#fff" stroke="#444" stroke-width="0.8"/>
<rect x="256.4" y="499.04" width="4.3" height="113.76" fill="#000"/>
<line x1="257.4" y1="499.03999999999996" x2="257.4" y2="498.40799999999996" stroke="#777" stroke-width="0.8" />
<line x1="256.2" y1="498.40799999999996" x2="258.59999999999997" y2="498.40799999999996" stroke="#777" stroke-width="0.8" />
<rect x="262.2" y="521.79" width="3.7" height="91.01" fill="#fff" stroke="#444" stroke-width="0.8"/>
<line x1="264.1" y1="521.7919999999999" x2="264.1" y2="518.632" stroke="#777" stroke-width="0.8" />
<line x1="262.90000000000003" y1="518.632" x2="265.3" y2="518.632" stroke="#777" stroke-width="0.8" />
<rect x="274.4" y="612.29" width="4.3" height="0.51" fill="#000"/>
<rect x="280.0" y="612.04" width="3.7" height="0.76" fill="#fff" stroke="#444" stroke-width="0.8"/>
<rect x="291.9" y="486.40" width="4.3" height="126.40" fill="#000"/>
<rect x="297.4" y="486.40" width="3.7" height="126.40" fill="#fff" stroke="#444" stroke-width="0.8"/>
<rect x="309.8" y="505.36" width="4.3" height="107.44" fill="#000"/>
<line x1="310.8" y1="505.35999999999996" x2="310.8" y2="501.568" stroke="#777" stroke-width="0.8" />
<line x1="309.6" y1="501.568" x2="312.0" y2="501.568" stroke="#777" stroke-width="0.8" />
<rect x="315.5" y="530.01" width="3.7" height="82.79" fill="#fff" stroke="#444" stroke-width="0.8"/>
<line x1="317.40000000000003" y1="530.0079999999999" x2="317.40000000000003" y2="525.584" stroke="#777" stroke-width="0.8" />
<line x1="316.20000000000005" y1="525.584" x2="318.6" y2="525.584" stroke="#777" stroke-width="0.8" />
<line x1="219.4" y1="620.5" x2="322.3" y2="620.5" stroke="#777" stroke-width="1.5" />
<text transform="translate(195.3,588) rotate(-90)" font-family="&quot;Liberation Sans&quot;, sans-serif" font-weight="bold" font-size="7" textLength="90.2" lengthAdjust="spacingAndGlyphs">% αβTCR surface expression</text>
<text transform="translate(227.5,626.3) rotate(-40)" font-family="&quot;Liberation Sans&quot;, sans-serif" font-weight="bold" font-size="4.7" text-anchor="end" textLength="21" lengthAdjust="spacingAndGlyphs">L-OKT3</text>
<text transform="translate(245,626.3) rotate(-40)" font-family="&quot;Liberation Sans&quot;, sans-serif" font-weight="bold" font-size="4.7" text-anchor="end" textLength="22.5" lengthAdjust="spacingAndGlyphs">L-T2 p53</text>
<text transform="translate(262.5,626.3) rotate(-40)" font-family="&quot;Liberation Sans&quot;, sans-serif" font-weight="bold" font-size="4.7" text-anchor="end" textLength="22.5" lengthAdjust="spacingAndGlyphs">L-T2 WT1</text>
<text transform="translate(281,626.3) rotate(-40)" font-family="&quot;Liberation Sans&quot;, sans-serif" font-weight="bold" font-size="4.7" text-anchor="end" textLength="21" lengthAdjust="spacingAndGlyphs">H-OKT3</text>
<text transform="translate(298.5,626.3) rotate(-40)" font-family="&quot;Liberation Sans&quot;, sans-serif" font-weight="bold" font-size="4.7" text-anchor="end" textLength="22.5" lengthAdjust="spacingAndGlyphs">H-T2 p53</text>
<text transform="translate(315.8,626.3) rotate(-40)" font-family="&quot;Liberation Sans&quot;, sans-serif" font-weight="bold" font-size="4.7" text-anchor="end" textLength="22.5" lengthAdjust="spacingAndGlyphs">H-T2 WT1</text>
<line x1="379.2" y1="480.3" x2="379.2" y2="612.8" stroke="#666" stroke-width="0.9" />
<line x1="376.9" y1="612.8" x2="379.2" y2="612.8" stroke="#666" stroke-width="0.9" />
<text x="376.4" y="614.9" font-family="&quot;Liberation Sans&quot;, sans-serif" font-weight="bold" font-size="6" text-anchor="end" fill="#000" >0</text>
<line x1="376.9" y1="581.1999999999999" x2="379.2" y2="581.1999999999999" stroke="#666" stroke-width="0.9" />
<text x="376.4" y="583.3" font-family="&quot;Liberation Sans&quot;, sans-serif" font-weight="bold" font-size="6" text-anchor="end" fill="#000" >25</text>
<line x1="376.9" y1="549.5999999999999" x2="379.2" y2="549.5999999999999" stroke="#666" stroke-width="0.9" />
<text x="376.4" y="551.6999999999999" font-family="&quot;Liberation Sans&quot;, sans-serif" font-weight="bold" font-size="6" text-anchor="end" fill="#000" >50</text>
<line x1="376.9" y1="518.0" x2="379.2" y2="518.0" stroke="#666" stroke-width="0.9" />
<text x="376.4" y="520.1" font-family="&quot;Liberation Sans&quot;, sans-serif" font-weight="bold" font-size="6" text-anchor="end" fill="#000" >75</text>
<line x1="376.9" y1="486.4" x2="379.2" y2="486.4" stroke="#666" stroke-width="0.9" />
<text x="376.4" y="488.5" font-family="&quot;Liberation Sans&quot;, sans-serif" font-weight="bold" font-size="6" text-anchor="end" fill="#000" >100</text>
<text transform="translate(360.3,0) rotate(-90)" font-family="&quot;Liberation Sans&quot;, sans-serif" font-weight="bold" font-size="6.6"></text>
<rect x="388.4" y="598.26" width="4.3" height="14.54" fill="#000"/>
<line x1="389.4" y1="598.264" x2="389.4" y2="596.3679999999999" stroke="#777" stroke-width="0.8" />
<line x1="388.2" y1="596.3679999999999" x2="390.59999999999997" y2="596.3679999999999" stroke="#777" stroke-width="0.8" />
<rect x="394.5" y="597.00" width="3.7" height="15.80" fill="#fff" stroke="#444" stroke-width="0.8"/>
<line x1="396.40000000000003" y1="597.0" x2="396.40000000000003" y2="595.1039999999999" stroke="#777" stroke-width="0.8" />
<line x1="395.20000000000005" y1="595.1039999999999" x2="397.6" y2="595.1039999999999" stroke="#777" stroke-width="0.8" />
<rect x="406.2" y="486.40" width="4.3" height="126.40" fill="#000"/>
<rect x="412.29999999999995" y="488.30" width="3.7" height="124.50" fill="#fff" stroke="#444" stroke-width="0.8"/>
<rect x="424.1" y="562.24" width="4.3" height="50.56" fill="#000"/>
<rect x="430.2" y="604.58" width="3.7" height="8.22" fill="#fff" stroke="#444" stroke-width="0.8"/>
<line x1="432.1" y1="604.584" x2="432.1" y2="602.0559999999999" stroke="#777" stroke-width="0.8" />
<line x1="430.90000000000003" y1="602.0559999999999" x2="433.3" y2="602.0559999999999" stroke="#777" stroke-width="0.8" />
<rect x="441.6" y="611.79" width="4.3" height="1.01" fill="#000"/>
<line x1="442.6" y1="611.7887999999999" x2="442.6" y2="601.424" stroke="#777" stroke-width="0.8" />
<line x1="441.40000000000003" y1="601.424" x2="443.8" y2="601.424" stroke="#777" stroke-width="0.8" />
<rect x="447.79999999999995" y="612.55" width="3.7" height="0.25" fill="#fff" stroke="#444" stroke-width="0.8"/>
<rect x="459.5" y="486.40" width="4.3" height="126.40" fill="#000"/>
<rect x="465.7" y="486.40" width="3.7" height="126.40" fill="#fff" stroke="#444" stroke-width="0.8"/>
<rect x="477.0" y="535.70" width="4.3" height="77.10" fill="#000"/>
<line x1="478.0" y1="535.6959999999999" x2="478.0" y2="513.5759999999999" stroke="#777" stroke-width="0.8" />
<line x1="476.8" y1="513.5759999999999" x2="479.2" y2="513.5759999999999" stroke="#777" stroke-width="0.8" />
<rect x="483.2" y="606.48" width="3.7" height="6.32" fill="#fff" stroke="#444" stroke-width="0.8"/>
<line x1="485.1" y1="606.4799999999999" x2="485.1" y2="597.632" stroke="#777" stroke-width="0.8" />
<line x1="483.90000000000003" y1="597.632" x2="486.3" y2="597.632" stroke="#777" stroke-width="0.8" />
<line x1="387.5" y1="620.5" x2="489.9" y2="620.5" stroke="#777" stroke-width="1.5" />
<text transform="translate(362.8,595.8) rotate(-90)" font-family="&quot;Liberation Sans&quot;, sans-serif" font-weight="bold" font-size="7" textLength="100.2" lengthAdjust="spacingAndGlyphs">%TCR vβ21 surface expression</text>
<text transform="translate(395,626.3) rotate(-40)" font-family="&quot;Liberation Sans&quot;, sans-serif" font-weight="bold" font-size="4.7" text-anchor="end" textLength="21" lengthAdjust="spacingAndGlyphs">L-OKT3</text>
<text transform="translate(412.5,626.3) rotate(-40)" font-family="&quot;Liberation Sans&quot;, sans-serif" font-weight="bold" font-size="4.7" text-anchor="end" textLength="22.5" lengthAdjust="spacingAndGlyphs">L-T2 p53</text>
<text transform="translate(430.5,626.3) rotate(-40)" font-family="&quot;Liberation Sans&quot;, sans-serif" font-weight="bold" font-size="4.7" text-anchor="end" textLength="22.5" lengthAdjust="spacingAndGlyphs">L-T2 WT1</text>
<text transform="translate(448,626.3) rotate(-40)" font-family="&quot;Liberation Sans&quot;, sans-serif" font-weight="bold" font-size="4.7" text-anchor="end" textLength="21" lengthAdjust="spacingAndGlyphs">H-OKT3</text>
<text transform="translate(466,626.3) rotate(-40)" font-family="&quot;Liberation Sans&quot;, sans-serif" font-weight="bold" font-size="4.7" text-anchor="end" textLength="22.5" lengthAdjust="spacingAndGlyphs">H-T2 p53</text>
<text transform="translate(483.5,626.3) rotate(-40)" font-family="&quot;Liberation Sans&quot;, sans-serif" font-weight="bold" font-size="4.7" text-anchor="end" textLength="22.5" lengthAdjust="spacingAndGlyphs">H-T2 WT1</text>
</svg></body></html>
